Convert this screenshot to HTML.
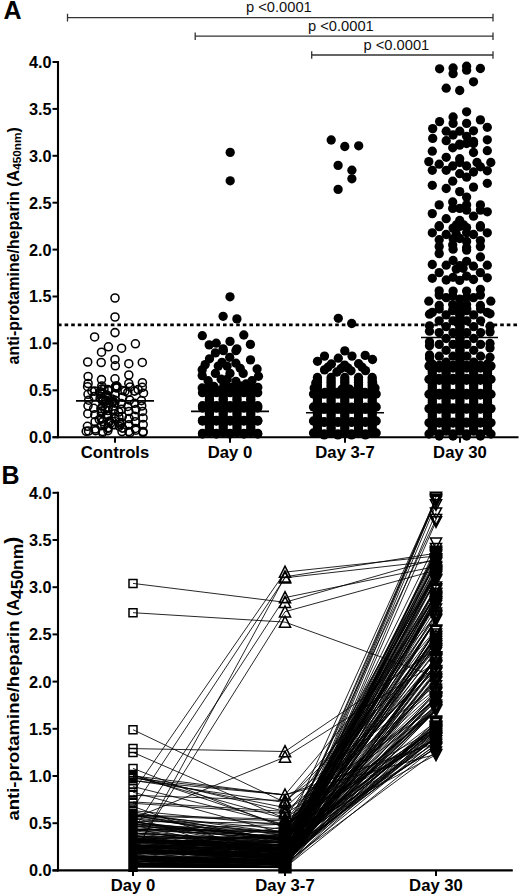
<!DOCTYPE html>
<html><head><meta charset="utf-8"><style>
html,body{margin:0;padding:0;background:#fff;width:520px;height:896px;overflow:hidden}
svg{display:block}
</style></head><body>
<svg width="520" height="896" viewBox="0 0 520 896">
<text x="3.6" y="18.8" font-size="25" font-weight="bold" font-family="Liberation Sans, sans-serif">A</text>
<path d="M67.5 13.8V21.400000000000002M67.5 17.6H493M493 13.8V21.400000000000002" stroke="#333" stroke-width="1.3" fill="none"/>
<text x="246.0" y="11.7" font-size="14.7" fill="#111" font-family="Liberation Sans, sans-serif">p &lt;0.0001</text>
<path d="M195.2 32.400000000000006V40.0M195.2 36.2H493M493 32.400000000000006V40.0" stroke="#333" stroke-width="1.3" fill="none"/>
<text x="308.0" y="31.2" font-size="14.7" fill="#111" font-family="Liberation Sans, sans-serif">p &lt;0.0001</text>
<path d="M311.7 51.2V58.8M311.7 55.0H493M493 51.2V58.8" stroke="#333" stroke-width="1.3" fill="none"/>
<text x="363.5" y="49.6" font-size="14.7" fill="#111" font-family="Liberation Sans, sans-serif">p &lt;0.0001</text>
<line x1="58" y1="61.0" x2="58" y2="438.2" stroke="#000" stroke-width="2.1"/>
<line x1="52.5" y1="437.2" x2="518.5" y2="437.2" stroke="#000" stroke-width="2.1"/>
<line x1="52.5" y1="437.20" x2="58" y2="437.20" stroke="#000" stroke-width="2"/>
<text x="51.6" y="443.10" text-anchor="end" font-size="16.3" font-weight="bold" font-family="Liberation Sans, sans-serif">0.0</text>
<line x1="52.5" y1="390.30" x2="58" y2="390.30" stroke="#000" stroke-width="2"/>
<text x="51.6" y="396.20" text-anchor="end" font-size="16.3" font-weight="bold" font-family="Liberation Sans, sans-serif">0.5</text>
<line x1="52.5" y1="343.40" x2="58" y2="343.40" stroke="#000" stroke-width="2"/>
<text x="51.6" y="349.30" text-anchor="end" font-size="16.3" font-weight="bold" font-family="Liberation Sans, sans-serif">1.0</text>
<line x1="52.5" y1="296.50" x2="58" y2="296.50" stroke="#000" stroke-width="2"/>
<text x="51.6" y="302.40" text-anchor="end" font-size="16.3" font-weight="bold" font-family="Liberation Sans, sans-serif">1.5</text>
<line x1="52.5" y1="249.60" x2="58" y2="249.60" stroke="#000" stroke-width="2"/>
<text x="51.6" y="255.50" text-anchor="end" font-size="16.3" font-weight="bold" font-family="Liberation Sans, sans-serif">2.0</text>
<line x1="52.5" y1="202.70" x2="58" y2="202.70" stroke="#000" stroke-width="2"/>
<text x="51.6" y="208.60" text-anchor="end" font-size="16.3" font-weight="bold" font-family="Liberation Sans, sans-serif">2.5</text>
<line x1="52.5" y1="155.80" x2="58" y2="155.80" stroke="#000" stroke-width="2"/>
<text x="51.6" y="161.70" text-anchor="end" font-size="16.3" font-weight="bold" font-family="Liberation Sans, sans-serif">3.0</text>
<line x1="52.5" y1="108.90" x2="58" y2="108.90" stroke="#000" stroke-width="2"/>
<text x="51.6" y="114.80" text-anchor="end" font-size="16.3" font-weight="bold" font-family="Liberation Sans, sans-serif">3.5</text>
<line x1="52.5" y1="62.00" x2="58" y2="62.00" stroke="#000" stroke-width="2"/>
<text x="51.6" y="67.90" text-anchor="end" font-size="16.3" font-weight="bold" font-family="Liberation Sans, sans-serif">4.0</text>
<line x1="115" y1="437.2" x2="115" y2="442.7" stroke="#000" stroke-width="2"/>
<text x="115" y="457.5" text-anchor="middle" font-size="16.7" font-weight="bold" font-family="Liberation Sans, sans-serif">Controls</text>
<line x1="230" y1="437.2" x2="230" y2="442.7" stroke="#000" stroke-width="2"/>
<text x="230" y="457.5" text-anchor="middle" font-size="16.7" font-weight="bold" font-family="Liberation Sans, sans-serif">Day 0</text>
<line x1="345" y1="437.2" x2="345" y2="442.7" stroke="#000" stroke-width="2"/>
<text x="345" y="457.5" text-anchor="middle" font-size="16.7" font-weight="bold" font-family="Liberation Sans, sans-serif">Day 3-7</text>
<line x1="460" y1="437.2" x2="460" y2="442.7" stroke="#000" stroke-width="2"/>
<text x="460" y="457.5" text-anchor="middle" font-size="16.7" font-weight="bold" font-family="Liberation Sans, sans-serif">Day 30</text>
<line x1="58" y1="324.9" x2="519.5" y2="324.9" stroke="#000" stroke-width="2.6" stroke-dasharray="3.6 3.0"/>
<text transform="translate(18.8,364.5) rotate(-90)" font-size="16" font-weight="bold" font-family="Liberation Sans, sans-serif">anti-protamine/heparin (A<tspan font-size="11.8" dy="2.6">450nm</tspan><tspan dy="-2.6">)</tspan></text>
<circle cx="115.0" cy="298.0" r="4.0" fill="none" stroke="#000" stroke-width="1.55"/>
<circle cx="115.0" cy="317.0" r="4.0" fill="none" stroke="#000" stroke-width="1.55"/>
<circle cx="115.0" cy="332.6" r="4.0" fill="none" stroke="#000" stroke-width="1.55"/>
<circle cx="94.6" cy="336.9" r="4.0" fill="none" stroke="#000" stroke-width="1.55"/>
<circle cx="135.4" cy="343.8" r="4.0" fill="none" stroke="#000" stroke-width="1.55"/>
<circle cx="108.4" cy="346.8" r="4.0" fill="none" stroke="#000" stroke-width="1.55"/>
<circle cx="121.6" cy="348.2" r="4.0" fill="none" stroke="#000" stroke-width="1.55"/>
<circle cx="101.5" cy="352.2" r="4.0" fill="none" stroke="#000" stroke-width="1.55"/>
<circle cx="115.0" cy="359.4" r="4.0" fill="none" stroke="#000" stroke-width="1.55"/>
<circle cx="87.7" cy="362.0" r="4.0" fill="none" stroke="#000" stroke-width="1.55"/>
<circle cx="101.2" cy="362.5" r="4.0" fill="none" stroke="#000" stroke-width="1.55"/>
<circle cx="128.8" cy="363.7" r="4.0" fill="none" stroke="#000" stroke-width="1.55"/>
<circle cx="142.3" cy="362.4" r="4.0" fill="none" stroke="#000" stroke-width="1.55"/>
<circle cx="115.3" cy="365.8" r="4.0" fill="none" stroke="#000" stroke-width="1.55"/>
<circle cx="88.1" cy="376.5" r="4.0" fill="none" stroke="#000" stroke-width="1.55"/>
<circle cx="88.1" cy="383.5" r="4.0" fill="none" stroke="#000" stroke-width="1.55"/>
<circle cx="101.5" cy="379.6" r="4.0" fill="none" stroke="#000" stroke-width="1.55"/>
<circle cx="115.0" cy="378.8" r="4.0" fill="none" stroke="#000" stroke-width="1.55"/>
<circle cx="128.8" cy="375.0" r="4.0" fill="none" stroke="#000" stroke-width="1.55"/>
<circle cx="128.8" cy="383.5" r="4.0" fill="none" stroke="#000" stroke-width="1.55"/>
<circle cx="142.4" cy="382.7" r="4.0" fill="none" stroke="#000" stroke-width="1.55"/>
<circle cx="91.9" cy="391.2" r="4.0" fill="none" stroke="#000" stroke-width="1.55"/>
<circle cx="108.0" cy="389.6" r="4.0" fill="none" stroke="#000" stroke-width="1.55"/>
<circle cx="115.3" cy="387.3" r="4.0" fill="none" stroke="#000" stroke-width="1.55"/>
<circle cx="125.0" cy="391.2" r="4.0" fill="none" stroke="#000" stroke-width="1.55"/>
<circle cx="138.1" cy="389.6" r="4.0" fill="none" stroke="#000" stroke-width="1.55"/>
<circle cx="87.6" cy="386.7" r="4.0" fill="none" stroke="#000" stroke-width="1.55"/>
<circle cx="101.8" cy="386.0" r="4.0" fill="none" stroke="#000" stroke-width="1.55"/>
<circle cx="115.8" cy="386.4" r="4.0" fill="none" stroke="#000" stroke-width="1.55"/>
<circle cx="130.0" cy="386.9" r="4.0" fill="none" stroke="#000" stroke-width="1.55"/>
<circle cx="142.3" cy="387.3" r="4.0" fill="none" stroke="#000" stroke-width="1.55"/>
<circle cx="94.8" cy="391.1" r="4.0" fill="none" stroke="#000" stroke-width="1.55"/>
<circle cx="108.9" cy="390.6" r="4.0" fill="none" stroke="#000" stroke-width="1.55"/>
<circle cx="122.4" cy="390.4" r="4.0" fill="none" stroke="#000" stroke-width="1.55"/>
<circle cx="134.5" cy="391.1" r="4.0" fill="none" stroke="#000" stroke-width="1.55"/>
<circle cx="88.0" cy="394.3" r="4.0" fill="none" stroke="#000" stroke-width="1.55"/>
<circle cx="102.5" cy="393.1" r="4.0" fill="none" stroke="#000" stroke-width="1.55"/>
<circle cx="114.9" cy="394.4" r="4.0" fill="none" stroke="#000" stroke-width="1.55"/>
<circle cx="127.8" cy="392.5" r="4.0" fill="none" stroke="#000" stroke-width="1.55"/>
<circle cx="143.5" cy="393.2" r="4.0" fill="none" stroke="#000" stroke-width="1.55"/>
<circle cx="94.0" cy="396.6" r="4.0" fill="none" stroke="#000" stroke-width="1.55"/>
<circle cx="107.9" cy="396.8" r="4.0" fill="none" stroke="#000" stroke-width="1.55"/>
<circle cx="122.8" cy="397.0" r="4.0" fill="none" stroke="#000" stroke-width="1.55"/>
<circle cx="88.7" cy="400.2" r="4.0" fill="none" stroke="#000" stroke-width="1.55"/>
<circle cx="102.4" cy="400.9" r="4.0" fill="none" stroke="#000" stroke-width="1.55"/>
<circle cx="115.2" cy="400.3" r="4.0" fill="none" stroke="#000" stroke-width="1.55"/>
<circle cx="129.6" cy="400.0" r="4.0" fill="none" stroke="#000" stroke-width="1.55"/>
<circle cx="141.4" cy="400.6" r="4.0" fill="none" stroke="#000" stroke-width="1.55"/>
<circle cx="109.0" cy="402.8" r="4.0" fill="none" stroke="#000" stroke-width="1.55"/>
<circle cx="121.3" cy="403.6" r="4.0" fill="none" stroke="#000" stroke-width="1.55"/>
<circle cx="134.5" cy="403.3" r="4.0" fill="none" stroke="#000" stroke-width="1.55"/>
<circle cx="88.0" cy="405.8" r="4.0" fill="none" stroke="#000" stroke-width="1.55"/>
<circle cx="102.7" cy="406.2" r="4.0" fill="none" stroke="#000" stroke-width="1.55"/>
<circle cx="127.8" cy="406.4" r="4.0" fill="none" stroke="#000" stroke-width="1.55"/>
<circle cx="141.7" cy="406.0" r="4.0" fill="none" stroke="#000" stroke-width="1.55"/>
<circle cx="93.7" cy="408.3" r="4.0" fill="none" stroke="#000" stroke-width="1.55"/>
<circle cx="107.9" cy="410.5" r="4.0" fill="none" stroke="#000" stroke-width="1.55"/>
<circle cx="121.5" cy="409.3" r="4.0" fill="none" stroke="#000" stroke-width="1.55"/>
<circle cx="135.9" cy="409.6" r="4.0" fill="none" stroke="#000" stroke-width="1.55"/>
<circle cx="87.8" cy="413.7" r="4.0" fill="none" stroke="#000" stroke-width="1.55"/>
<circle cx="101.3" cy="413.1" r="4.0" fill="none" stroke="#000" stroke-width="1.55"/>
<circle cx="114.5" cy="413.7" r="4.0" fill="none" stroke="#000" stroke-width="1.55"/>
<circle cx="128.9" cy="411.4" r="4.0" fill="none" stroke="#000" stroke-width="1.55"/>
<circle cx="142.6" cy="411.4" r="4.0" fill="none" stroke="#000" stroke-width="1.55"/>
<circle cx="94.8" cy="414.7" r="4.0" fill="none" stroke="#000" stroke-width="1.55"/>
<circle cx="108.2" cy="416.2" r="4.0" fill="none" stroke="#000" stroke-width="1.55"/>
<circle cx="122.3" cy="416.4" r="4.0" fill="none" stroke="#000" stroke-width="1.55"/>
<circle cx="134.5" cy="416.2" r="4.0" fill="none" stroke="#000" stroke-width="1.55"/>
<circle cx="101.4" cy="419.2" r="4.0" fill="none" stroke="#000" stroke-width="1.55"/>
<circle cx="114.7" cy="418.6" r="4.0" fill="none" stroke="#000" stroke-width="1.55"/>
<circle cx="129.0" cy="418.5" r="4.0" fill="none" stroke="#000" stroke-width="1.55"/>
<circle cx="143.1" cy="417.9" r="4.0" fill="none" stroke="#000" stroke-width="1.55"/>
<circle cx="95.1" cy="421.7" r="4.0" fill="none" stroke="#000" stroke-width="1.55"/>
<circle cx="109.0" cy="421.6" r="4.0" fill="none" stroke="#000" stroke-width="1.55"/>
<circle cx="121.6" cy="422.7" r="4.0" fill="none" stroke="#000" stroke-width="1.55"/>
<circle cx="135.2" cy="421.8" r="4.0" fill="none" stroke="#000" stroke-width="1.55"/>
<circle cx="87.4" cy="426.3" r="4.0" fill="none" stroke="#000" stroke-width="1.55"/>
<circle cx="101.1" cy="425.8" r="4.0" fill="none" stroke="#000" stroke-width="1.55"/>
<circle cx="114.9" cy="424.7" r="4.0" fill="none" stroke="#000" stroke-width="1.55"/>
<circle cx="128.9" cy="424.7" r="4.0" fill="none" stroke="#000" stroke-width="1.55"/>
<circle cx="143.2" cy="424.6" r="4.0" fill="none" stroke="#000" stroke-width="1.55"/>
<circle cx="95.2" cy="428.9" r="4.0" fill="none" stroke="#000" stroke-width="1.55"/>
<circle cx="107.9" cy="427.7" r="4.0" fill="none" stroke="#000" stroke-width="1.55"/>
<circle cx="122.5" cy="428.1" r="4.0" fill="none" stroke="#000" stroke-width="1.55"/>
<circle cx="135.4" cy="428.4" r="4.0" fill="none" stroke="#000" stroke-width="1.55"/>
<circle cx="88.5" cy="431.0" r="4.0" fill="none" stroke="#000" stroke-width="1.55"/>
<circle cx="102.6" cy="432.7" r="4.0" fill="none" stroke="#000" stroke-width="1.55"/>
<circle cx="129.9" cy="432.8" r="4.0" fill="none" stroke="#000" stroke-width="1.55"/>
<circle cx="143.0" cy="432.6" r="4.0" fill="none" stroke="#000" stroke-width="1.55"/>
<circle cx="113.6" cy="409.4" r="4.0" fill="none" stroke="#000" stroke-width="1.55"/>
<circle cx="105.4" cy="401.3" r="4.0" fill="none" stroke="#000" stroke-width="1.55"/>
<circle cx="104.0" cy="389.1" r="4.0" fill="none" stroke="#000" stroke-width="1.55"/>
<circle cx="112.0" cy="398.9" r="4.0" fill="none" stroke="#000" stroke-width="1.55"/>
<circle cx="116.8" cy="388.0" r="4.0" fill="none" stroke="#000" stroke-width="1.55"/>
<circle cx="118.9" cy="417.2" r="4.0" fill="none" stroke="#000" stroke-width="1.55"/>
<circle cx="119.3" cy="426.3" r="4.0" fill="none" stroke="#000" stroke-width="1.55"/>
<circle cx="118.8" cy="412.0" r="4.0" fill="none" stroke="#000" stroke-width="1.55"/>
<circle cx="99.3" cy="419.5" r="4.0" fill="none" stroke="#000" stroke-width="1.55"/>
<circle cx="102.8" cy="399.5" r="4.0" fill="none" stroke="#000" stroke-width="1.55"/>
<circle cx="113.6" cy="409.6" r="4.0" fill="none" stroke="#000" stroke-width="1.55"/>
<circle cx="108.1" cy="428.3" r="4.0" fill="none" stroke="#000" stroke-width="1.55"/>
<circle cx="112.5" cy="401.4" r="4.0" fill="none" stroke="#000" stroke-width="1.55"/>
<circle cx="104.6" cy="424.8" r="4.0" fill="none" stroke="#000" stroke-width="1.55"/>
<circle cx="109.5" cy="421.2" r="4.0" fill="none" stroke="#000" stroke-width="1.55"/>
<circle cx="106.7" cy="394.9" r="4.0" fill="none" stroke="#000" stroke-width="1.55"/>
<circle cx="110.8" cy="422.8" r="4.0" fill="none" stroke="#000" stroke-width="1.55"/>
<circle cx="102.8" cy="421.6" r="4.0" fill="none" stroke="#000" stroke-width="1.55"/>
<circle cx="119.3" cy="422.3" r="4.0" fill="none" stroke="#000" stroke-width="1.55"/>
<circle cx="117.1" cy="386.3" r="4.0" fill="none" stroke="#000" stroke-width="1.55"/>
<circle cx="112.8" cy="424.8" r="4.0" fill="none" stroke="#000" stroke-width="1.55"/>
<circle cx="100.1" cy="398.2" r="4.0" fill="none" stroke="#000" stroke-width="1.55"/>
<circle cx="104.9" cy="409.7" r="4.0" fill="none" stroke="#000" stroke-width="1.55"/>
<circle cx="108.3" cy="407.3" r="4.0" fill="none" stroke="#000" stroke-width="1.55"/>
<circle cx="116.1" cy="386.1" r="4.0" fill="none" stroke="#000" stroke-width="1.55"/>
<circle cx="100.2" cy="391.7" r="4.0" fill="none" stroke="#000" stroke-width="1.55"/>
<circle cx="101.7" cy="389.1" r="4.0" fill="none" stroke="#000" stroke-width="1.55"/>
<circle cx="120.4" cy="424.5" r="4.0" fill="none" stroke="#000" stroke-width="1.55"/>
<circle cx="100.9" cy="408.6" r="4.0" fill="none" stroke="#000" stroke-width="1.55"/>
<circle cx="105.9" cy="400.2" r="4.0" fill="none" stroke="#000" stroke-width="1.55"/>
<circle cx="106.7" cy="415.1" r="4.0" fill="none" stroke="#000" stroke-width="1.55"/>
<circle cx="111.9" cy="402.2" r="4.0" fill="none" stroke="#000" stroke-width="1.55"/>
<circle cx="103.2" cy="400.8" r="4.0" fill="none" stroke="#000" stroke-width="1.55"/>
<circle cx="101.7" cy="411.0" r="4.0" fill="none" stroke="#000" stroke-width="1.55"/>
<circle cx="114.8" cy="403.1" r="4.0" fill="none" stroke="#000" stroke-width="1.55"/>
<circle cx="100.8" cy="394.0" r="4.0" fill="none" stroke="#000" stroke-width="1.55"/>
<circle cx="86.2" cy="431.3" r="4.0" fill="none" stroke="#000" stroke-width="1.55"/>
<circle cx="95.6" cy="430.6" r="4.0" fill="none" stroke="#000" stroke-width="1.55"/>
<circle cx="102.6" cy="431.4" r="4.0" fill="none" stroke="#000" stroke-width="1.55"/>
<circle cx="107.9" cy="430.6" r="4.0" fill="none" stroke="#000" stroke-width="1.55"/>
<circle cx="122.0" cy="431.6" r="4.0" fill="none" stroke="#000" stroke-width="1.55"/>
<circle cx="128.8" cy="431.6" r="4.0" fill="none" stroke="#000" stroke-width="1.55"/>
<circle cx="135.9" cy="430.2" r="4.0" fill="none" stroke="#000" stroke-width="1.55"/>
<circle cx="143.1" cy="431.6" r="4.0" fill="none" stroke="#000" stroke-width="1.55"/>
<circle cx="230.2" cy="152.4" r="4.65"/>
<circle cx="230.2" cy="180.8" r="4.65"/>
<circle cx="230.0" cy="296.8" r="4.65"/>
<circle cx="223.1" cy="316.3" r="4.65"/>
<circle cx="236.9" cy="318.9" r="4.65"/>
<circle cx="202.3" cy="335.7" r="4.65"/>
<circle cx="243.8" cy="335.0" r="4.65"/>
<circle cx="209.2" cy="344.9" r="4.65"/>
<circle cx="216.2" cy="343.2" r="4.65"/>
<circle cx="230.0" cy="341.4" r="4.65"/>
<circle cx="250.4" cy="344.4" r="4.65"/>
<circle cx="223.1" cy="348.9" r="4.65"/>
<circle cx="236.9" cy="348.9" r="4.65"/>
<circle cx="215.4" cy="352.9" r="4.65"/>
<circle cx="223.4" cy="350.7" r="4.65"/>
<circle cx="235.9" cy="350.7" r="4.65"/>
<circle cx="209.5" cy="358.8" r="4.65"/>
<circle cx="229.7" cy="357.3" r="4.65"/>
<circle cx="250.5" cy="359.9" r="4.65"/>
<circle cx="205.2" cy="364.6" r="4.65"/>
<circle cx="222.0" cy="362.4" r="4.65"/>
<circle cx="235.9" cy="363.2" r="4.65"/>
<circle cx="202.2" cy="369.7" r="4.65"/>
<circle cx="218.3" cy="366.1" r="4.65"/>
<circle cx="227.1" cy="366.1" r="4.65"/>
<circle cx="240.2" cy="368.3" r="4.65"/>
<circle cx="257.1" cy="369.0" r="4.65"/>
<circle cx="202.2" cy="375.6" r="4.65"/>
<circle cx="215.4" cy="373.4" r="4.65"/>
<circle cx="230.0" cy="373.4" r="4.65"/>
<circle cx="243.2" cy="373.4" r="4.65"/>
<circle cx="258.5" cy="376.3" r="4.65"/>
<circle cx="208.1" cy="380.7" r="4.65"/>
<circle cx="221.2" cy="379.2" r="4.65"/>
<circle cx="227.1" cy="379.2" r="4.65"/>
<circle cx="235.9" cy="381.4" r="4.65"/>
<circle cx="252.0" cy="380.7" r="4.65"/>
<circle cx="202.2" cy="388.0" r="4.65"/>
<circle cx="213.9" cy="386.5" r="4.65"/>
<circle cx="230.0" cy="387.3" r="4.65"/>
<circle cx="240.2" cy="385.8" r="4.65"/>
<circle cx="257.8" cy="387.3" r="4.65"/>
<circle cx="246.0" cy="384.0" r="4.65"/>
<circle cx="224.0" cy="384.0" r="4.65"/>
<circle cx="216.3" cy="390.0" r="4.65"/>
<circle cx="243.9" cy="390.0" r="4.65"/>
<circle cx="209.4" cy="385.0" r="4.65"/>
<circle cx="250.8" cy="385.0" r="4.65"/>
<circle cx="223.2" cy="388.0" r="4.65"/>
<circle cx="237.0" cy="388.0" r="4.65"/>
<circle cx="230.1" cy="392.0" r="4.65"/>
<circle cx="209.4" cy="392.0" r="4.65"/>
<circle cx="209.4" cy="394.4" r="4.65"/>
<circle cx="209.4" cy="396.8" r="4.65"/>
<circle cx="209.4" cy="399.2" r="4.65"/>
<circle cx="209.4" cy="401.6" r="4.65"/>
<circle cx="209.4" cy="404.0" r="4.65"/>
<circle cx="209.4" cy="406.4" r="4.65"/>
<circle cx="209.4" cy="408.8" r="4.65"/>
<circle cx="209.4" cy="411.2" r="4.65"/>
<circle cx="209.4" cy="413.6" r="4.65"/>
<circle cx="209.4" cy="416.0" r="4.65"/>
<circle cx="209.4" cy="418.4" r="4.65"/>
<circle cx="209.4" cy="420.8" r="4.65"/>
<circle cx="209.4" cy="423.2" r="4.65"/>
<circle cx="209.4" cy="425.6" r="4.65"/>
<circle cx="209.4" cy="428.0" r="4.65"/>
<circle cx="209.4" cy="430.4" r="4.65"/>
<circle cx="209.4" cy="432.8" r="4.65"/>
<circle cx="223.2" cy="392.0" r="4.65"/>
<circle cx="223.2" cy="394.4" r="4.65"/>
<circle cx="223.2" cy="396.8" r="4.65"/>
<circle cx="223.2" cy="399.2" r="4.65"/>
<circle cx="223.2" cy="401.6" r="4.65"/>
<circle cx="223.2" cy="404.0" r="4.65"/>
<circle cx="223.2" cy="406.4" r="4.65"/>
<circle cx="223.2" cy="408.8" r="4.65"/>
<circle cx="223.2" cy="411.2" r="4.65"/>
<circle cx="223.2" cy="413.6" r="4.65"/>
<circle cx="223.2" cy="416.0" r="4.65"/>
<circle cx="223.2" cy="418.4" r="4.65"/>
<circle cx="223.2" cy="420.8" r="4.65"/>
<circle cx="223.2" cy="423.2" r="4.65"/>
<circle cx="223.2" cy="425.6" r="4.65"/>
<circle cx="223.2" cy="428.0" r="4.65"/>
<circle cx="223.2" cy="430.4" r="4.65"/>
<circle cx="223.2" cy="432.8" r="4.65"/>
<circle cx="237.0" cy="392.0" r="4.65"/>
<circle cx="237.0" cy="394.4" r="4.65"/>
<circle cx="237.0" cy="396.8" r="4.65"/>
<circle cx="237.0" cy="399.2" r="4.65"/>
<circle cx="237.0" cy="401.6" r="4.65"/>
<circle cx="237.0" cy="404.0" r="4.65"/>
<circle cx="237.0" cy="406.4" r="4.65"/>
<circle cx="237.0" cy="408.8" r="4.65"/>
<circle cx="237.0" cy="411.2" r="4.65"/>
<circle cx="237.0" cy="413.6" r="4.65"/>
<circle cx="237.0" cy="416.0" r="4.65"/>
<circle cx="237.0" cy="418.4" r="4.65"/>
<circle cx="237.0" cy="420.8" r="4.65"/>
<circle cx="237.0" cy="423.2" r="4.65"/>
<circle cx="237.0" cy="425.6" r="4.65"/>
<circle cx="237.0" cy="428.0" r="4.65"/>
<circle cx="237.0" cy="430.4" r="4.65"/>
<circle cx="237.0" cy="432.8" r="4.65"/>
<circle cx="250.8" cy="392.0" r="4.65"/>
<circle cx="250.8" cy="394.4" r="4.65"/>
<circle cx="250.8" cy="396.8" r="4.65"/>
<circle cx="250.8" cy="399.2" r="4.65"/>
<circle cx="250.8" cy="401.6" r="4.65"/>
<circle cx="250.8" cy="404.0" r="4.65"/>
<circle cx="250.8" cy="406.4" r="4.65"/>
<circle cx="250.8" cy="408.8" r="4.65"/>
<circle cx="250.8" cy="411.2" r="4.65"/>
<circle cx="250.8" cy="413.6" r="4.65"/>
<circle cx="250.8" cy="416.0" r="4.65"/>
<circle cx="250.8" cy="418.4" r="4.65"/>
<circle cx="250.8" cy="420.8" r="4.65"/>
<circle cx="250.8" cy="423.2" r="4.65"/>
<circle cx="250.8" cy="425.6" r="4.65"/>
<circle cx="250.8" cy="428.0" r="4.65"/>
<circle cx="250.8" cy="430.4" r="4.65"/>
<circle cx="250.8" cy="432.8" r="4.65"/>
<circle cx="202.5" cy="392.7" r="4.65"/>
<circle cx="202.5" cy="405.7" r="4.65"/>
<circle cx="202.5" cy="408.0" r="4.65"/>
<circle cx="202.5" cy="421.0" r="4.65"/>
<circle cx="202.5" cy="420.4" r="4.65"/>
<circle cx="202.5" cy="433.4" r="4.65"/>
<circle cx="202.5" cy="406.9" r="4.65"/>
<circle cx="202.5" cy="420.7" r="4.65"/>
<circle cx="216.3" cy="392.7" r="4.65"/>
<circle cx="216.3" cy="405.7" r="4.65"/>
<circle cx="216.3" cy="408.0" r="4.65"/>
<circle cx="216.3" cy="421.0" r="4.65"/>
<circle cx="216.3" cy="420.4" r="4.65"/>
<circle cx="216.3" cy="433.4" r="4.65"/>
<circle cx="216.3" cy="406.9" r="4.65"/>
<circle cx="216.3" cy="420.7" r="4.65"/>
<circle cx="230.1" cy="392.7" r="4.65"/>
<circle cx="230.1" cy="405.7" r="4.65"/>
<circle cx="230.1" cy="408.0" r="4.65"/>
<circle cx="230.1" cy="421.0" r="4.65"/>
<circle cx="230.1" cy="420.4" r="4.65"/>
<circle cx="230.1" cy="433.4" r="4.65"/>
<circle cx="230.1" cy="406.9" r="4.65"/>
<circle cx="230.1" cy="420.7" r="4.65"/>
<circle cx="243.9" cy="392.7" r="4.65"/>
<circle cx="243.9" cy="405.7" r="4.65"/>
<circle cx="243.9" cy="408.0" r="4.65"/>
<circle cx="243.9" cy="421.0" r="4.65"/>
<circle cx="243.9" cy="420.4" r="4.65"/>
<circle cx="243.9" cy="433.4" r="4.65"/>
<circle cx="243.9" cy="406.9" r="4.65"/>
<circle cx="243.9" cy="420.7" r="4.65"/>
<circle cx="257.7" cy="392.7" r="4.65"/>
<circle cx="257.7" cy="405.7" r="4.65"/>
<circle cx="257.7" cy="408.0" r="4.65"/>
<circle cx="257.7" cy="421.0" r="4.65"/>
<circle cx="257.7" cy="420.4" r="4.65"/>
<circle cx="257.7" cy="433.4" r="4.65"/>
<circle cx="257.7" cy="406.9" r="4.65"/>
<circle cx="257.7" cy="420.7" r="4.65"/>
<circle cx="202.5" cy="434.0" r="4.65"/>
<circle cx="216.3" cy="434.0" r="4.65"/>
<circle cx="230.1" cy="434.0" r="4.65"/>
<circle cx="243.9" cy="434.0" r="4.65"/>
<circle cx="257.7" cy="434.0" r="4.65"/>
<circle cx="331.2" cy="140.0" r="4.65"/>
<circle cx="344.8" cy="146.5" r="4.65"/>
<circle cx="358.7" cy="145.8" r="4.65"/>
<circle cx="338.1" cy="165.4" r="4.65"/>
<circle cx="351.9" cy="170.2" r="4.65"/>
<circle cx="351.9" cy="178.8" r="4.65"/>
<circle cx="338.1" cy="189.4" r="4.65"/>
<circle cx="338.3" cy="318.3" r="4.65"/>
<circle cx="351.7" cy="323.5" r="4.65"/>
<circle cx="317.5" cy="361.3" r="4.65"/>
<circle cx="324.5" cy="356.1" r="4.65"/>
<circle cx="338.3" cy="358.2" r="4.65"/>
<circle cx="344.8" cy="350.9" r="4.65"/>
<circle cx="352.0" cy="356.1" r="4.65"/>
<circle cx="365.2" cy="355.4" r="4.65"/>
<circle cx="372.5" cy="359.5" r="4.65"/>
<circle cx="324.5" cy="369.9" r="4.65"/>
<circle cx="327.9" cy="367.2" r="4.65"/>
<circle cx="331.4" cy="364.0" r="4.65"/>
<circle cx="336.9" cy="372.0" r="4.65"/>
<circle cx="341.1" cy="368.5" r="4.65"/>
<circle cx="344.6" cy="365.1" r="4.65"/>
<circle cx="347.8" cy="367.9" r="4.65"/>
<circle cx="351.0" cy="370.8" r="4.65"/>
<circle cx="358.6" cy="363.7" r="4.65"/>
<circle cx="362.1" cy="367.2" r="4.65"/>
<circle cx="365.5" cy="370.6" r="4.65"/>
<circle cx="315.8" cy="383.0" r="4.65"/>
<circle cx="314.2" cy="388.1" r="4.65"/>
<circle cx="374.2" cy="389.2" r="4.65"/>
<circle cx="372.7" cy="383.0" r="4.65"/>
<circle cx="341.9" cy="389.2" r="4.65"/>
<circle cx="349.6" cy="389.2" r="4.65"/>
<circle cx="375.0" cy="388.1" r="4.65"/>
<circle cx="325.0" cy="392.3" r="4.65"/>
<circle cx="335.8" cy="392.3" r="4.65"/>
<circle cx="352.7" cy="392.3" r="4.65"/>
<circle cx="365.0" cy="392.3" r="4.65"/>
<circle cx="317.4" cy="377.5" r="4.65"/>
<circle cx="317.4" cy="379.9" r="4.65"/>
<circle cx="317.4" cy="382.3" r="4.65"/>
<circle cx="317.4" cy="384.7" r="4.65"/>
<circle cx="317.4" cy="387.1" r="4.65"/>
<circle cx="317.4" cy="389.5" r="4.65"/>
<circle cx="317.4" cy="391.9" r="4.65"/>
<circle cx="317.4" cy="394.3" r="4.65"/>
<circle cx="317.4" cy="396.7" r="4.65"/>
<circle cx="317.4" cy="399.1" r="4.65"/>
<circle cx="317.4" cy="401.5" r="4.65"/>
<circle cx="317.4" cy="403.9" r="4.65"/>
<circle cx="317.4" cy="406.3" r="4.65"/>
<circle cx="317.4" cy="408.7" r="4.65"/>
<circle cx="317.4" cy="411.1" r="4.65"/>
<circle cx="317.4" cy="413.5" r="4.65"/>
<circle cx="317.4" cy="415.9" r="4.65"/>
<circle cx="317.4" cy="418.3" r="4.65"/>
<circle cx="317.4" cy="420.7" r="4.65"/>
<circle cx="317.4" cy="423.1" r="4.65"/>
<circle cx="317.4" cy="425.5" r="4.65"/>
<circle cx="317.4" cy="427.9" r="4.65"/>
<circle cx="317.4" cy="430.3" r="4.65"/>
<circle cx="317.4" cy="432.7" r="4.65"/>
<circle cx="331.1" cy="377.5" r="4.65"/>
<circle cx="331.1" cy="379.9" r="4.65"/>
<circle cx="331.1" cy="382.3" r="4.65"/>
<circle cx="331.1" cy="384.7" r="4.65"/>
<circle cx="331.1" cy="387.1" r="4.65"/>
<circle cx="331.1" cy="389.5" r="4.65"/>
<circle cx="331.1" cy="391.9" r="4.65"/>
<circle cx="331.1" cy="394.3" r="4.65"/>
<circle cx="331.1" cy="396.7" r="4.65"/>
<circle cx="331.1" cy="399.1" r="4.65"/>
<circle cx="331.1" cy="401.5" r="4.65"/>
<circle cx="331.1" cy="403.9" r="4.65"/>
<circle cx="331.1" cy="406.3" r="4.65"/>
<circle cx="331.1" cy="408.7" r="4.65"/>
<circle cx="331.1" cy="411.1" r="4.65"/>
<circle cx="331.1" cy="413.5" r="4.65"/>
<circle cx="331.1" cy="415.9" r="4.65"/>
<circle cx="331.1" cy="418.3" r="4.65"/>
<circle cx="331.1" cy="420.7" r="4.65"/>
<circle cx="331.1" cy="423.1" r="4.65"/>
<circle cx="331.1" cy="425.5" r="4.65"/>
<circle cx="331.1" cy="427.9" r="4.65"/>
<circle cx="331.1" cy="430.3" r="4.65"/>
<circle cx="331.1" cy="432.7" r="4.65"/>
<circle cx="344.8" cy="377.5" r="4.65"/>
<circle cx="344.8" cy="379.9" r="4.65"/>
<circle cx="344.8" cy="382.3" r="4.65"/>
<circle cx="344.8" cy="384.7" r="4.65"/>
<circle cx="344.8" cy="387.1" r="4.65"/>
<circle cx="344.8" cy="389.5" r="4.65"/>
<circle cx="344.8" cy="391.9" r="4.65"/>
<circle cx="344.8" cy="394.3" r="4.65"/>
<circle cx="344.8" cy="396.7" r="4.65"/>
<circle cx="344.8" cy="399.1" r="4.65"/>
<circle cx="344.8" cy="401.5" r="4.65"/>
<circle cx="344.8" cy="403.9" r="4.65"/>
<circle cx="344.8" cy="406.3" r="4.65"/>
<circle cx="344.8" cy="408.7" r="4.65"/>
<circle cx="344.8" cy="411.1" r="4.65"/>
<circle cx="344.8" cy="413.5" r="4.65"/>
<circle cx="344.8" cy="415.9" r="4.65"/>
<circle cx="344.8" cy="418.3" r="4.65"/>
<circle cx="344.8" cy="420.7" r="4.65"/>
<circle cx="344.8" cy="423.1" r="4.65"/>
<circle cx="344.8" cy="425.5" r="4.65"/>
<circle cx="344.8" cy="427.9" r="4.65"/>
<circle cx="344.8" cy="430.3" r="4.65"/>
<circle cx="344.8" cy="432.7" r="4.65"/>
<circle cx="358.5" cy="377.5" r="4.65"/>
<circle cx="358.5" cy="379.9" r="4.65"/>
<circle cx="358.5" cy="382.3" r="4.65"/>
<circle cx="358.5" cy="384.7" r="4.65"/>
<circle cx="358.5" cy="387.1" r="4.65"/>
<circle cx="358.5" cy="389.5" r="4.65"/>
<circle cx="358.5" cy="391.9" r="4.65"/>
<circle cx="358.5" cy="394.3" r="4.65"/>
<circle cx="358.5" cy="396.7" r="4.65"/>
<circle cx="358.5" cy="399.1" r="4.65"/>
<circle cx="358.5" cy="401.5" r="4.65"/>
<circle cx="358.5" cy="403.9" r="4.65"/>
<circle cx="358.5" cy="406.3" r="4.65"/>
<circle cx="358.5" cy="408.7" r="4.65"/>
<circle cx="358.5" cy="411.1" r="4.65"/>
<circle cx="358.5" cy="413.5" r="4.65"/>
<circle cx="358.5" cy="415.9" r="4.65"/>
<circle cx="358.5" cy="418.3" r="4.65"/>
<circle cx="358.5" cy="420.7" r="4.65"/>
<circle cx="358.5" cy="423.1" r="4.65"/>
<circle cx="358.5" cy="425.5" r="4.65"/>
<circle cx="358.5" cy="427.9" r="4.65"/>
<circle cx="358.5" cy="430.3" r="4.65"/>
<circle cx="358.5" cy="432.7" r="4.65"/>
<circle cx="372.2" cy="377.5" r="4.65"/>
<circle cx="372.2" cy="379.9" r="4.65"/>
<circle cx="372.2" cy="382.3" r="4.65"/>
<circle cx="372.2" cy="384.7" r="4.65"/>
<circle cx="372.2" cy="387.1" r="4.65"/>
<circle cx="372.2" cy="389.5" r="4.65"/>
<circle cx="372.2" cy="391.9" r="4.65"/>
<circle cx="372.2" cy="394.3" r="4.65"/>
<circle cx="372.2" cy="396.7" r="4.65"/>
<circle cx="372.2" cy="399.1" r="4.65"/>
<circle cx="372.2" cy="401.5" r="4.65"/>
<circle cx="372.2" cy="403.9" r="4.65"/>
<circle cx="372.2" cy="406.3" r="4.65"/>
<circle cx="372.2" cy="408.7" r="4.65"/>
<circle cx="372.2" cy="411.1" r="4.65"/>
<circle cx="372.2" cy="413.5" r="4.65"/>
<circle cx="372.2" cy="415.9" r="4.65"/>
<circle cx="372.2" cy="418.3" r="4.65"/>
<circle cx="372.2" cy="420.7" r="4.65"/>
<circle cx="372.2" cy="423.1" r="4.65"/>
<circle cx="372.2" cy="425.5" r="4.65"/>
<circle cx="372.2" cy="427.9" r="4.65"/>
<circle cx="372.2" cy="430.3" r="4.65"/>
<circle cx="372.2" cy="432.7" r="4.65"/>
<circle cx="324.2" cy="394.2" r="4.65"/>
<circle cx="324.2" cy="407.2" r="4.65"/>
<circle cx="324.2" cy="409.2" r="4.65"/>
<circle cx="324.2" cy="422.2" r="4.65"/>
<circle cx="324.2" cy="421.9" r="4.65"/>
<circle cx="324.2" cy="434.9" r="4.65"/>
<circle cx="324.2" cy="408.2" r="4.65"/>
<circle cx="324.2" cy="422.0" r="4.65"/>
<circle cx="337.9" cy="394.2" r="4.65"/>
<circle cx="337.9" cy="407.2" r="4.65"/>
<circle cx="337.9" cy="409.2" r="4.65"/>
<circle cx="337.9" cy="422.2" r="4.65"/>
<circle cx="337.9" cy="421.9" r="4.65"/>
<circle cx="337.9" cy="434.9" r="4.65"/>
<circle cx="337.9" cy="408.2" r="4.65"/>
<circle cx="337.9" cy="422.0" r="4.65"/>
<circle cx="351.6" cy="394.2" r="4.65"/>
<circle cx="351.6" cy="407.2" r="4.65"/>
<circle cx="351.6" cy="409.2" r="4.65"/>
<circle cx="351.6" cy="422.2" r="4.65"/>
<circle cx="351.6" cy="421.9" r="4.65"/>
<circle cx="351.6" cy="434.9" r="4.65"/>
<circle cx="351.6" cy="408.2" r="4.65"/>
<circle cx="351.6" cy="422.0" r="4.65"/>
<circle cx="365.4" cy="394.2" r="4.65"/>
<circle cx="365.4" cy="407.2" r="4.65"/>
<circle cx="365.4" cy="409.2" r="4.65"/>
<circle cx="365.4" cy="422.2" r="4.65"/>
<circle cx="365.4" cy="421.9" r="4.65"/>
<circle cx="365.4" cy="434.9" r="4.65"/>
<circle cx="365.4" cy="408.2" r="4.65"/>
<circle cx="365.4" cy="422.0" r="4.65"/>
<circle cx="324.2" cy="434.0" r="4.65"/>
<circle cx="337.9" cy="434.0" r="4.65"/>
<circle cx="351.6" cy="434.0" r="4.65"/>
<circle cx="365.4" cy="434.0" r="4.65"/>
<circle cx="313.5" cy="394.0" r="4.65"/>
<circle cx="376.2" cy="394.0" r="4.65"/>
<circle cx="313.5" cy="407.0" r="4.65"/>
<circle cx="376.2" cy="407.0" r="4.65"/>
<circle cx="313.5" cy="421.0" r="4.65"/>
<circle cx="376.2" cy="421.0" r="4.65"/>
<circle cx="313.5" cy="433.0" r="4.65"/>
<circle cx="376.2" cy="433.0" r="4.65"/>
<circle cx="439.6" cy="68.8" r="4.65"/>
<circle cx="453.1" cy="68.0" r="4.65"/>
<circle cx="453.1" cy="73.7" r="4.65"/>
<circle cx="466.6" cy="66.2" r="4.65"/>
<circle cx="466.6" cy="70.2" r="4.65"/>
<circle cx="480.4" cy="68.5" r="4.65"/>
<circle cx="473.5" cy="81.8" r="4.65"/>
<circle cx="446.2" cy="88.2" r="4.65"/>
<circle cx="459.7" cy="90.5" r="4.65"/>
<circle cx="466.6" cy="111.8" r="4.65"/>
<circle cx="453.1" cy="117.0" r="4.65"/>
<circle cx="439.6" cy="121.6" r="4.65"/>
<circle cx="480.4" cy="119.9" r="4.65"/>
<circle cx="453.1" cy="123.4" r="4.65"/>
<circle cx="466.6" cy="123.4" r="4.65"/>
<circle cx="432.7" cy="128.6" r="4.65"/>
<circle cx="487.3" cy="127.3" r="4.65"/>
<circle cx="446.2" cy="131.2" r="4.65"/>
<circle cx="459.7" cy="131.2" r="4.65"/>
<circle cx="473.5" cy="130.8" r="4.65"/>
<circle cx="453.1" cy="135.0" r="4.65"/>
<circle cx="466.6" cy="136.3" r="4.65"/>
<circle cx="432.7" cy="138.4" r="4.65"/>
<circle cx="487.3" cy="139.8" r="4.65"/>
<circle cx="446.2" cy="140.7" r="4.65"/>
<circle cx="459.7" cy="144.1" r="4.65"/>
<circle cx="473.5" cy="141.5" r="4.65"/>
<circle cx="452.7" cy="147.8" r="4.65"/>
<circle cx="459.7" cy="145.2" r="4.65"/>
<circle cx="466.6" cy="143.5" r="4.65"/>
<circle cx="473.5" cy="143.5" r="4.65"/>
<circle cx="432.3" cy="151.2" r="4.65"/>
<circle cx="473.5" cy="152.5" r="4.65"/>
<circle cx="487.3" cy="150.7" r="4.65"/>
<circle cx="446.2" cy="157.3" r="4.65"/>
<circle cx="459.7" cy="158.7" r="4.65"/>
<circle cx="428.8" cy="161.6" r="4.65"/>
<circle cx="439.2" cy="164.2" r="4.65"/>
<circle cx="452.7" cy="166.0" r="4.65"/>
<circle cx="459.7" cy="162.5" r="4.65"/>
<circle cx="466.6" cy="166.0" r="4.65"/>
<circle cx="477.0" cy="162.5" r="4.65"/>
<circle cx="490.8" cy="162.5" r="4.65"/>
<circle cx="432.3" cy="170.3" r="4.65"/>
<circle cx="446.2" cy="170.3" r="4.65"/>
<circle cx="473.5" cy="172.0" r="4.65"/>
<circle cx="480.4" cy="166.8" r="4.65"/>
<circle cx="487.3" cy="170.8" r="4.65"/>
<circle cx="459.7" cy="173.7" r="4.65"/>
<circle cx="466.6" cy="177.2" r="4.65"/>
<circle cx="452.7" cy="181.2" r="4.65"/>
<circle cx="432.3" cy="185.3" r="4.65"/>
<circle cx="487.3" cy="183.3" r="4.65"/>
<circle cx="446.2" cy="188.5" r="4.65"/>
<circle cx="473.5" cy="187.1" r="4.65"/>
<circle cx="459.7" cy="191.6" r="4.65"/>
<circle cx="466.6" cy="197.1" r="4.65"/>
<circle cx="452.7" cy="202.0" r="4.65"/>
<circle cx="439.2" cy="204.9" r="4.65"/>
<circle cx="452.7" cy="208.4" r="4.65"/>
<circle cx="466.6" cy="204.9" r="4.65"/>
<circle cx="480.4" cy="204.9" r="4.65"/>
<circle cx="459.7" cy="208.4" r="4.65"/>
<circle cx="466.6" cy="210.1" r="4.65"/>
<circle cx="432.3" cy="213.6" r="4.65"/>
<circle cx="480.4" cy="210.1" r="4.65"/>
<circle cx="487.3" cy="211.8" r="4.65"/>
<circle cx="446.2" cy="218.7" r="4.65"/>
<circle cx="473.5" cy="216.2" r="4.65"/>
<circle cx="459.7" cy="220.5" r="4.65"/>
<circle cx="439.2" cy="225.7" r="4.65"/>
<circle cx="456.5" cy="224.8" r="4.65"/>
<circle cx="463.5" cy="224.8" r="4.65"/>
<circle cx="480.4" cy="225.7" r="4.65"/>
<circle cx="439.2" cy="226.7" r="4.65"/>
<circle cx="453.1" cy="228.1" r="4.65"/>
<circle cx="459.7" cy="226.4" r="4.65"/>
<circle cx="466.6" cy="227.6" r="4.65"/>
<circle cx="480.4" cy="227.1" r="4.65"/>
<circle cx="432.3" cy="232.8" r="4.65"/>
<circle cx="446.2" cy="234.5" r="4.65"/>
<circle cx="456.2" cy="233.7" r="4.65"/>
<circle cx="466.6" cy="232.8" r="4.65"/>
<circle cx="473.5" cy="234.5" r="4.65"/>
<circle cx="487.3" cy="232.8" r="4.65"/>
<circle cx="439.2" cy="239.7" r="4.65"/>
<circle cx="453.1" cy="238.8" r="4.65"/>
<circle cx="459.7" cy="238.5" r="4.65"/>
<circle cx="466.6" cy="241.4" r="4.65"/>
<circle cx="480.4" cy="240.6" r="4.65"/>
<circle cx="439.2" cy="246.6" r="4.65"/>
<circle cx="452.7" cy="244.9" r="4.65"/>
<circle cx="466.6" cy="247.5" r="4.65"/>
<circle cx="480.4" cy="246.6" r="4.65"/>
<circle cx="439.2" cy="253.6" r="4.65"/>
<circle cx="453.1" cy="249.2" r="4.65"/>
<circle cx="466.6" cy="250.1" r="4.65"/>
<circle cx="480.4" cy="257.0" r="4.65"/>
<circle cx="432.3" cy="264.5" r="4.65"/>
<circle cx="446.2" cy="265.2" r="4.65"/>
<circle cx="453.1" cy="260.5" r="4.65"/>
<circle cx="459.7" cy="265.7" r="4.65"/>
<circle cx="466.6" cy="261.3" r="4.65"/>
<circle cx="473.5" cy="266.2" r="4.65"/>
<circle cx="487.3" cy="265.2" r="4.65"/>
<circle cx="456.2" cy="269.1" r="4.65"/>
<circle cx="463.1" cy="268.3" r="4.65"/>
<circle cx="439.2" cy="272.6" r="4.65"/>
<circle cx="480.4" cy="272.6" r="4.65"/>
<circle cx="432.3" cy="278.3" r="4.65"/>
<circle cx="446.2" cy="280.0" r="4.65"/>
<circle cx="453.1" cy="277.3" r="4.65"/>
<circle cx="459.7" cy="280.4" r="4.65"/>
<circle cx="466.6" cy="276.1" r="4.65"/>
<circle cx="473.5" cy="279.5" r="4.65"/>
<circle cx="487.3" cy="277.8" r="4.65"/>
<circle cx="439.2" cy="290.8" r="4.65"/>
<circle cx="453.1" cy="291.1" r="4.65"/>
<circle cx="466.6" cy="291.1" r="4.65"/>
<circle cx="480.4" cy="289.4" r="4.65"/>
<circle cx="439.2" cy="295.1" r="4.65"/>
<circle cx="480.4" cy="295.1" r="4.65"/>
<circle cx="446.2" cy="297.7" r="4.65"/>
<circle cx="452.7" cy="296.0" r="4.65"/>
<circle cx="459.7" cy="299.1" r="4.65"/>
<circle cx="466.6" cy="297.3" r="4.65"/>
<circle cx="473.5" cy="297.7" r="4.65"/>
<circle cx="428.8" cy="301.2" r="4.65"/>
<circle cx="490.8" cy="301.2" r="4.65"/>
<circle cx="452.7" cy="304.6" r="4.65"/>
<circle cx="459.7" cy="306.3" r="4.65"/>
<circle cx="466.6" cy="304.6" r="4.65"/>
<circle cx="439.2" cy="305.5" r="4.65"/>
<circle cx="480.4" cy="305.5" r="4.65"/>
<circle cx="432.3" cy="312.4" r="4.65"/>
<circle cx="452.7" cy="310.7" r="4.65"/>
<circle cx="466.6" cy="310.7" r="4.65"/>
<circle cx="487.3" cy="312.4" r="4.65"/>
<circle cx="429.5" cy="314.2" r="4.65"/>
<circle cx="429.5" cy="325.8" r="4.65"/>
<circle cx="429.5" cy="331.2" r="4.65"/>
<circle cx="429.5" cy="341.9" r="4.65"/>
<circle cx="429.5" cy="345.8" r="4.65"/>
<circle cx="429.5" cy="355.0" r="4.65"/>
<circle cx="429.5" cy="358.0" r="4.65"/>
<circle cx="429.5" cy="365.8" r="4.65"/>
<circle cx="490.0" cy="313.8" r="4.65"/>
<circle cx="490.0" cy="326.2" r="4.65"/>
<circle cx="490.0" cy="331.9" r="4.65"/>
<circle cx="490.0" cy="343.5" r="4.65"/>
<circle cx="490.0" cy="348.0" r="4.65"/>
<circle cx="490.0" cy="357.3" r="4.65"/>
<circle cx="490.0" cy="366.5" r="4.65"/>
<circle cx="439.2" cy="309.0" r="4.65"/>
<circle cx="453.0" cy="309.0" r="4.65"/>
<circle cx="466.8" cy="309.0" r="4.65"/>
<circle cx="480.6" cy="309.0" r="4.65"/>
<circle cx="446.1" cy="314.9" r="4.65"/>
<circle cx="459.9" cy="314.9" r="4.65"/>
<circle cx="473.7" cy="314.9" r="4.65"/>
<circle cx="439.2" cy="320.8" r="4.65"/>
<circle cx="453.0" cy="320.8" r="4.65"/>
<circle cx="466.8" cy="320.8" r="4.65"/>
<circle cx="480.6" cy="320.8" r="4.65"/>
<circle cx="446.1" cy="326.7" r="4.65"/>
<circle cx="459.9" cy="326.7" r="4.65"/>
<circle cx="473.7" cy="326.7" r="4.65"/>
<circle cx="439.2" cy="332.6" r="4.65"/>
<circle cx="453.0" cy="332.6" r="4.65"/>
<circle cx="466.8" cy="332.6" r="4.65"/>
<circle cx="480.6" cy="332.6" r="4.65"/>
<circle cx="446.1" cy="338.5" r="4.65"/>
<circle cx="459.9" cy="338.5" r="4.65"/>
<circle cx="473.7" cy="338.5" r="4.65"/>
<circle cx="439.2" cy="344.4" r="4.65"/>
<circle cx="453.0" cy="344.4" r="4.65"/>
<circle cx="466.8" cy="344.4" r="4.65"/>
<circle cx="480.6" cy="344.4" r="4.65"/>
<circle cx="446.1" cy="350.3" r="4.65"/>
<circle cx="459.9" cy="350.3" r="4.65"/>
<circle cx="473.7" cy="350.3" r="4.65"/>
<circle cx="439.2" cy="356.2" r="4.65"/>
<circle cx="453.0" cy="356.2" r="4.65"/>
<circle cx="466.8" cy="356.2" r="4.65"/>
<circle cx="480.6" cy="356.2" r="4.65"/>
<circle cx="446.1" cy="362.1" r="4.65"/>
<circle cx="459.9" cy="362.1" r="4.65"/>
<circle cx="473.7" cy="362.1" r="4.65"/>
<circle cx="439.2" cy="368.0" r="4.65"/>
<circle cx="453.0" cy="368.0" r="4.65"/>
<circle cx="466.8" cy="368.0" r="4.65"/>
<circle cx="480.6" cy="368.0" r="4.65"/>
<circle cx="459.9" cy="310.0" r="4.65"/>
<circle cx="459.9" cy="313.0" r="4.65"/>
<circle cx="459.9" cy="316.0" r="4.65"/>
<circle cx="459.9" cy="319.0" r="4.65"/>
<circle cx="459.9" cy="322.0" r="4.65"/>
<circle cx="459.9" cy="325.0" r="4.65"/>
<circle cx="459.9" cy="328.0" r="4.65"/>
<circle cx="459.9" cy="331.0" r="4.65"/>
<circle cx="459.9" cy="334.0" r="4.65"/>
<circle cx="459.9" cy="337.0" r="4.65"/>
<circle cx="459.9" cy="340.0" r="4.65"/>
<circle cx="459.9" cy="343.0" r="4.65"/>
<circle cx="459.9" cy="346.0" r="4.65"/>
<circle cx="459.9" cy="349.0" r="4.65"/>
<circle cx="459.9" cy="352.0" r="4.65"/>
<circle cx="459.9" cy="355.0" r="4.65"/>
<circle cx="459.9" cy="358.0" r="4.65"/>
<circle cx="459.9" cy="361.0" r="4.65"/>
<circle cx="459.9" cy="364.0" r="4.65"/>
<circle cx="459.9" cy="367.0" r="4.65"/>
<circle cx="432.3" cy="364.0" r="4.65"/>
<circle cx="432.3" cy="366.4" r="4.65"/>
<circle cx="432.3" cy="368.8" r="4.65"/>
<circle cx="432.3" cy="371.2" r="4.65"/>
<circle cx="432.3" cy="373.6" r="4.65"/>
<circle cx="432.3" cy="376.0" r="4.65"/>
<circle cx="432.3" cy="378.4" r="4.65"/>
<circle cx="432.3" cy="380.8" r="4.65"/>
<circle cx="432.3" cy="383.2" r="4.65"/>
<circle cx="432.3" cy="385.6" r="4.65"/>
<circle cx="432.3" cy="388.0" r="4.65"/>
<circle cx="432.3" cy="390.4" r="4.65"/>
<circle cx="432.3" cy="392.8" r="4.65"/>
<circle cx="432.3" cy="395.2" r="4.65"/>
<circle cx="432.3" cy="397.6" r="4.65"/>
<circle cx="432.3" cy="400.0" r="4.65"/>
<circle cx="432.3" cy="402.4" r="4.65"/>
<circle cx="432.3" cy="404.8" r="4.65"/>
<circle cx="432.3" cy="407.2" r="4.65"/>
<circle cx="432.3" cy="409.6" r="4.65"/>
<circle cx="432.3" cy="412.0" r="4.65"/>
<circle cx="432.3" cy="414.4" r="4.65"/>
<circle cx="432.3" cy="416.8" r="4.65"/>
<circle cx="432.3" cy="419.2" r="4.65"/>
<circle cx="432.3" cy="421.6" r="4.65"/>
<circle cx="432.3" cy="424.0" r="4.65"/>
<circle cx="432.3" cy="426.4" r="4.65"/>
<circle cx="432.3" cy="428.8" r="4.65"/>
<circle cx="432.3" cy="431.2" r="4.65"/>
<circle cx="446.1" cy="364.0" r="4.65"/>
<circle cx="446.1" cy="366.4" r="4.65"/>
<circle cx="446.1" cy="368.8" r="4.65"/>
<circle cx="446.1" cy="371.2" r="4.65"/>
<circle cx="446.1" cy="373.6" r="4.65"/>
<circle cx="446.1" cy="376.0" r="4.65"/>
<circle cx="446.1" cy="378.4" r="4.65"/>
<circle cx="446.1" cy="380.8" r="4.65"/>
<circle cx="446.1" cy="383.2" r="4.65"/>
<circle cx="446.1" cy="385.6" r="4.65"/>
<circle cx="446.1" cy="388.0" r="4.65"/>
<circle cx="446.1" cy="390.4" r="4.65"/>
<circle cx="446.1" cy="392.8" r="4.65"/>
<circle cx="446.1" cy="395.2" r="4.65"/>
<circle cx="446.1" cy="397.6" r="4.65"/>
<circle cx="446.1" cy="400.0" r="4.65"/>
<circle cx="446.1" cy="402.4" r="4.65"/>
<circle cx="446.1" cy="404.8" r="4.65"/>
<circle cx="446.1" cy="407.2" r="4.65"/>
<circle cx="446.1" cy="409.6" r="4.65"/>
<circle cx="446.1" cy="412.0" r="4.65"/>
<circle cx="446.1" cy="414.4" r="4.65"/>
<circle cx="446.1" cy="416.8" r="4.65"/>
<circle cx="446.1" cy="419.2" r="4.65"/>
<circle cx="446.1" cy="421.6" r="4.65"/>
<circle cx="446.1" cy="424.0" r="4.65"/>
<circle cx="446.1" cy="426.4" r="4.65"/>
<circle cx="446.1" cy="428.8" r="4.65"/>
<circle cx="446.1" cy="431.2" r="4.65"/>
<circle cx="459.9" cy="364.0" r="4.65"/>
<circle cx="459.9" cy="366.4" r="4.65"/>
<circle cx="459.9" cy="368.8" r="4.65"/>
<circle cx="459.9" cy="371.2" r="4.65"/>
<circle cx="459.9" cy="373.6" r="4.65"/>
<circle cx="459.9" cy="376.0" r="4.65"/>
<circle cx="459.9" cy="378.4" r="4.65"/>
<circle cx="459.9" cy="380.8" r="4.65"/>
<circle cx="459.9" cy="383.2" r="4.65"/>
<circle cx="459.9" cy="385.6" r="4.65"/>
<circle cx="459.9" cy="388.0" r="4.65"/>
<circle cx="459.9" cy="390.4" r="4.65"/>
<circle cx="459.9" cy="392.8" r="4.65"/>
<circle cx="459.9" cy="395.2" r="4.65"/>
<circle cx="459.9" cy="397.6" r="4.65"/>
<circle cx="459.9" cy="400.0" r="4.65"/>
<circle cx="459.9" cy="402.4" r="4.65"/>
<circle cx="459.9" cy="404.8" r="4.65"/>
<circle cx="459.9" cy="407.2" r="4.65"/>
<circle cx="459.9" cy="409.6" r="4.65"/>
<circle cx="459.9" cy="412.0" r="4.65"/>
<circle cx="459.9" cy="414.4" r="4.65"/>
<circle cx="459.9" cy="416.8" r="4.65"/>
<circle cx="459.9" cy="419.2" r="4.65"/>
<circle cx="459.9" cy="421.6" r="4.65"/>
<circle cx="459.9" cy="424.0" r="4.65"/>
<circle cx="459.9" cy="426.4" r="4.65"/>
<circle cx="459.9" cy="428.8" r="4.65"/>
<circle cx="459.9" cy="431.2" r="4.65"/>
<circle cx="473.7" cy="364.0" r="4.65"/>
<circle cx="473.7" cy="366.4" r="4.65"/>
<circle cx="473.7" cy="368.8" r="4.65"/>
<circle cx="473.7" cy="371.2" r="4.65"/>
<circle cx="473.7" cy="373.6" r="4.65"/>
<circle cx="473.7" cy="376.0" r="4.65"/>
<circle cx="473.7" cy="378.4" r="4.65"/>
<circle cx="473.7" cy="380.8" r="4.65"/>
<circle cx="473.7" cy="383.2" r="4.65"/>
<circle cx="473.7" cy="385.6" r="4.65"/>
<circle cx="473.7" cy="388.0" r="4.65"/>
<circle cx="473.7" cy="390.4" r="4.65"/>
<circle cx="473.7" cy="392.8" r="4.65"/>
<circle cx="473.7" cy="395.2" r="4.65"/>
<circle cx="473.7" cy="397.6" r="4.65"/>
<circle cx="473.7" cy="400.0" r="4.65"/>
<circle cx="473.7" cy="402.4" r="4.65"/>
<circle cx="473.7" cy="404.8" r="4.65"/>
<circle cx="473.7" cy="407.2" r="4.65"/>
<circle cx="473.7" cy="409.6" r="4.65"/>
<circle cx="473.7" cy="412.0" r="4.65"/>
<circle cx="473.7" cy="414.4" r="4.65"/>
<circle cx="473.7" cy="416.8" r="4.65"/>
<circle cx="473.7" cy="419.2" r="4.65"/>
<circle cx="473.7" cy="421.6" r="4.65"/>
<circle cx="473.7" cy="424.0" r="4.65"/>
<circle cx="473.7" cy="426.4" r="4.65"/>
<circle cx="473.7" cy="428.8" r="4.65"/>
<circle cx="473.7" cy="431.2" r="4.65"/>
<circle cx="487.5" cy="364.0" r="4.65"/>
<circle cx="487.5" cy="366.4" r="4.65"/>
<circle cx="487.5" cy="368.8" r="4.65"/>
<circle cx="487.5" cy="371.2" r="4.65"/>
<circle cx="487.5" cy="373.6" r="4.65"/>
<circle cx="487.5" cy="376.0" r="4.65"/>
<circle cx="487.5" cy="378.4" r="4.65"/>
<circle cx="487.5" cy="380.8" r="4.65"/>
<circle cx="487.5" cy="383.2" r="4.65"/>
<circle cx="487.5" cy="385.6" r="4.65"/>
<circle cx="487.5" cy="388.0" r="4.65"/>
<circle cx="487.5" cy="390.4" r="4.65"/>
<circle cx="487.5" cy="392.8" r="4.65"/>
<circle cx="487.5" cy="395.2" r="4.65"/>
<circle cx="487.5" cy="397.6" r="4.65"/>
<circle cx="487.5" cy="400.0" r="4.65"/>
<circle cx="487.5" cy="402.4" r="4.65"/>
<circle cx="487.5" cy="404.8" r="4.65"/>
<circle cx="487.5" cy="407.2" r="4.65"/>
<circle cx="487.5" cy="409.6" r="4.65"/>
<circle cx="487.5" cy="412.0" r="4.65"/>
<circle cx="487.5" cy="414.4" r="4.65"/>
<circle cx="487.5" cy="416.8" r="4.65"/>
<circle cx="487.5" cy="419.2" r="4.65"/>
<circle cx="487.5" cy="421.6" r="4.65"/>
<circle cx="487.5" cy="424.0" r="4.65"/>
<circle cx="487.5" cy="426.4" r="4.65"/>
<circle cx="487.5" cy="428.8" r="4.65"/>
<circle cx="487.5" cy="431.2" r="4.65"/>
<circle cx="439.2" cy="365.3" r="4.65"/>
<circle cx="439.2" cy="378.3" r="4.65"/>
<circle cx="439.2" cy="380.3" r="4.65"/>
<circle cx="439.2" cy="393.3" r="4.65"/>
<circle cx="439.2" cy="395.0" r="4.65"/>
<circle cx="439.2" cy="408.0" r="4.65"/>
<circle cx="439.2" cy="409.2" r="4.65"/>
<circle cx="439.2" cy="422.2" r="4.65"/>
<circle cx="439.2" cy="423.0" r="4.65"/>
<circle cx="439.2" cy="436.0" r="4.65"/>
<circle cx="439.2" cy="379.3" r="4.65"/>
<circle cx="439.2" cy="394.1" r="4.65"/>
<circle cx="439.2" cy="408.6" r="4.65"/>
<circle cx="439.2" cy="422.6" r="4.65"/>
<circle cx="453.0" cy="365.3" r="4.65"/>
<circle cx="453.0" cy="378.3" r="4.65"/>
<circle cx="453.0" cy="380.3" r="4.65"/>
<circle cx="453.0" cy="393.3" r="4.65"/>
<circle cx="453.0" cy="395.0" r="4.65"/>
<circle cx="453.0" cy="408.0" r="4.65"/>
<circle cx="453.0" cy="409.2" r="4.65"/>
<circle cx="453.0" cy="422.2" r="4.65"/>
<circle cx="453.0" cy="423.0" r="4.65"/>
<circle cx="453.0" cy="436.0" r="4.65"/>
<circle cx="453.0" cy="379.3" r="4.65"/>
<circle cx="453.0" cy="394.1" r="4.65"/>
<circle cx="453.0" cy="408.6" r="4.65"/>
<circle cx="453.0" cy="422.6" r="4.65"/>
<circle cx="466.6" cy="365.3" r="4.65"/>
<circle cx="466.6" cy="378.3" r="4.65"/>
<circle cx="466.6" cy="380.3" r="4.65"/>
<circle cx="466.6" cy="393.3" r="4.65"/>
<circle cx="466.6" cy="395.0" r="4.65"/>
<circle cx="466.6" cy="408.0" r="4.65"/>
<circle cx="466.6" cy="409.2" r="4.65"/>
<circle cx="466.6" cy="422.2" r="4.65"/>
<circle cx="466.6" cy="423.0" r="4.65"/>
<circle cx="466.6" cy="436.0" r="4.65"/>
<circle cx="466.6" cy="379.3" r="4.65"/>
<circle cx="466.6" cy="394.1" r="4.65"/>
<circle cx="466.6" cy="408.6" r="4.65"/>
<circle cx="466.6" cy="422.6" r="4.65"/>
<circle cx="480.4" cy="365.3" r="4.65"/>
<circle cx="480.4" cy="378.3" r="4.65"/>
<circle cx="480.4" cy="380.3" r="4.65"/>
<circle cx="480.4" cy="393.3" r="4.65"/>
<circle cx="480.4" cy="395.0" r="4.65"/>
<circle cx="480.4" cy="408.0" r="4.65"/>
<circle cx="480.4" cy="409.2" r="4.65"/>
<circle cx="480.4" cy="422.2" r="4.65"/>
<circle cx="480.4" cy="423.0" r="4.65"/>
<circle cx="480.4" cy="436.0" r="4.65"/>
<circle cx="480.4" cy="379.3" r="4.65"/>
<circle cx="480.4" cy="394.1" r="4.65"/>
<circle cx="480.4" cy="408.6" r="4.65"/>
<circle cx="480.4" cy="422.6" r="4.65"/>
<circle cx="439.2" cy="434.0" r="4.65"/>
<circle cx="453.0" cy="434.0" r="4.65"/>
<circle cx="466.6" cy="434.0" r="4.65"/>
<circle cx="480.4" cy="434.0" r="4.65"/>
<circle cx="429.0" cy="366.0" r="4.65"/>
<circle cx="429.0" cy="379.3" r="4.65"/>
<circle cx="429.0" cy="394.2" r="4.65"/>
<circle cx="429.0" cy="408.6" r="4.65"/>
<circle cx="429.0" cy="422.8" r="4.65"/>
<circle cx="429.0" cy="434.0" r="4.65"/>
<circle cx="491.0" cy="366.0" r="4.65"/>
<circle cx="491.0" cy="379.3" r="4.65"/>
<circle cx="491.0" cy="394.2" r="4.65"/>
<circle cx="491.0" cy="408.6" r="4.65"/>
<circle cx="491.0" cy="422.8" r="4.65"/>
<circle cx="491.0" cy="434.0" r="4.65"/>
<line x1="76" y1="400.9" x2="154" y2="400.9" stroke="#000" stroke-width="1.6"/>
<line x1="191" y1="411.4" x2="269" y2="411.4" stroke="#000" stroke-width="1.6"/>
<line x1="306" y1="412.8" x2="384" y2="412.8" stroke="#000" stroke-width="1.6"/>
<line x1="421" y1="337.5" x2="498" y2="337.5" stroke="#000" stroke-width="1.6"/>
<text x="1.6" y="484.3" font-size="25" font-weight="bold" font-family="Liberation Sans, sans-serif">B</text>
<line x1="58" y1="491.8" x2="58" y2="871.4" stroke="#000" stroke-width="2.1"/>
<line x1="52.5" y1="870.4" x2="512.8" y2="870.4" stroke="#000" stroke-width="2.1"/>
<line x1="52.5" y1="870.40" x2="58" y2="870.40" stroke="#000" stroke-width="2"/>
<text x="51.6" y="876.30" text-anchor="end" font-size="16.3" font-weight="bold" font-family="Liberation Sans, sans-serif">0.0</text>
<line x1="52.5" y1="823.20" x2="58" y2="823.20" stroke="#000" stroke-width="2"/>
<text x="51.6" y="829.10" text-anchor="end" font-size="16.3" font-weight="bold" font-family="Liberation Sans, sans-serif">0.5</text>
<line x1="52.5" y1="776.00" x2="58" y2="776.00" stroke="#000" stroke-width="2"/>
<text x="51.6" y="781.90" text-anchor="end" font-size="16.3" font-weight="bold" font-family="Liberation Sans, sans-serif">1.0</text>
<line x1="52.5" y1="728.80" x2="58" y2="728.80" stroke="#000" stroke-width="2"/>
<text x="51.6" y="734.70" text-anchor="end" font-size="16.3" font-weight="bold" font-family="Liberation Sans, sans-serif">1.5</text>
<line x1="52.5" y1="681.60" x2="58" y2="681.60" stroke="#000" stroke-width="2"/>
<text x="51.6" y="687.50" text-anchor="end" font-size="16.3" font-weight="bold" font-family="Liberation Sans, sans-serif">2.0</text>
<line x1="52.5" y1="634.40" x2="58" y2="634.40" stroke="#000" stroke-width="2"/>
<text x="51.6" y="640.30" text-anchor="end" font-size="16.3" font-weight="bold" font-family="Liberation Sans, sans-serif">2.5</text>
<line x1="52.5" y1="587.20" x2="58" y2="587.20" stroke="#000" stroke-width="2"/>
<text x="51.6" y="593.10" text-anchor="end" font-size="16.3" font-weight="bold" font-family="Liberation Sans, sans-serif">3.0</text>
<line x1="52.5" y1="540.00" x2="58" y2="540.00" stroke="#000" stroke-width="2"/>
<text x="51.6" y="545.90" text-anchor="end" font-size="16.3" font-weight="bold" font-family="Liberation Sans, sans-serif">3.5</text>
<line x1="52.5" y1="492.80" x2="58" y2="492.80" stroke="#000" stroke-width="2"/>
<text x="51.6" y="498.70" text-anchor="end" font-size="16.3" font-weight="bold" font-family="Liberation Sans, sans-serif">4.0</text>
<line x1="133" y1="870.4" x2="133" y2="875.9" stroke="#000" stroke-width="2"/>
<text x="133" y="890.8" text-anchor="middle" font-size="16.7" font-weight="bold" font-family="Liberation Sans, sans-serif">Day 0</text>
<line x1="285" y1="870.4" x2="285" y2="875.9" stroke="#000" stroke-width="2"/>
<text x="285" y="890.8" text-anchor="middle" font-size="16.7" font-weight="bold" font-family="Liberation Sans, sans-serif">Day 3-7</text>
<line x1="436" y1="870.4" x2="436" y2="875.9" stroke="#000" stroke-width="2"/>
<text x="436" y="890.8" text-anchor="middle" font-size="16.7" font-weight="bold" font-family="Liberation Sans, sans-serif">Day 30</text>
<text transform="translate(19.2,820.5) rotate(-90)" font-size="16.2" font-weight="bold" font-family="Liberation Sans, sans-serif" textLength="200" lengthAdjust="spacingAndGlyphs">anti-protamine/heparin</text>
<text transform="translate(19.2,620.5) rotate(-90)" font-size="16.2" font-weight="bold" font-family="Liberation Sans, sans-serif">&#160;(A<tspan font-size="17.4" dy="3.6">450nm</tspan><tspan dy="-3.6" font-size="21">)</tspan></text>
<path d="M133.0 583.4L285.0 602.3L436.0 558.9M133.0 612.7L285.0 622.1L436.0 676.9M133.0 792.0L285.0 572.1L436.0 556.0M133.0 808.1L285.0 577.8L436.0 560.8M133.0 856.2L285.0 576.8L436.0 553.2M133.0 830.8L285.0 597.6L436.0 566.4M133.0 853.4L285.0 611.7L436.0 570.2M133.0 729.7L285.0 802.4L436.0 629.7M133.0 748.6L285.0 751.5L436.0 648.6M133.0 818.5L285.0 757.1L436.0 662.7M133.0 752.4L285.0 818.5L436.0 596.6M133.0 768.4L285.0 827.9L436.0 691.0M133.0 780.7L285.0 794.9L436.0 615.5M133.0 841.1L285.0 849.6L436.0 576.5M133.0 855.6L285.0 830.7L436.0 616.9M133.0 866.5L285.0 867.6L436.0 554.6M133.0 839.5L285.0 850.3L436.0 696.6M133.0 823.9L285.0 849.2L436.0 619.8M133.0 775.4L285.0 811.3L436.0 689.0M133.0 842.1L285.0 842.5L436.0 580.1M133.0 863.5L285.0 867.6L436.0 512.7M133.0 859.0L285.0 859.2L436.0 497.0M133.0 777.5L285.0 807.6L436.0 670.7M133.0 858.2L285.0 862.3L436.0 499.6M133.0 853.6L285.0 840.0L436.0 666.4M133.0 859.0L285.0 854.6L436.0 599.4M133.0 840.2L285.0 851.5L436.0 551.3M133.0 863.0L285.0 867.6L436.0 559.8M133.0 849.9L285.0 862.4L436.0 666.4M133.0 833.6L285.0 848.1L436.0 730.0M133.0 857.0L285.0 854.6L436.0 630.2M133.0 860.2L285.0 856.6L436.0 572.8M133.0 844.8L285.0 854.8L436.0 558.5M133.0 824.2L285.0 831.9L436.0 630.2M133.0 836.5L285.0 837.7L436.0 733.5M133.0 843.1L285.0 853.3L436.0 710.4M133.0 838.0L285.0 838.2L436.0 710.4M133.0 857.9L285.0 841.6L436.0 572.0M133.0 840.1L285.0 842.3L436.0 728.3M133.0 846.4L285.0 854.4L436.0 744.8M133.0 840.7L285.0 859.7L436.0 740.7M133.0 838.3L285.0 850.3L436.0 693.4M133.0 849.7L285.0 859.6L436.0 697.3M133.0 856.5L285.0 865.0L436.0 597.5M133.0 845.8L285.0 857.6L436.0 665.6M133.0 858.4L285.0 857.5L436.0 657.1M133.0 847.2L285.0 839.6L436.0 657.5M133.0 840.9L285.0 849.1L436.0 737.4M133.0 851.4L285.0 857.0L436.0 601.6M133.0 856.7L285.0 862.7L436.0 727.4M133.0 823.5L285.0 837.9L436.0 648.0M133.0 863.9L285.0 862.6L436.0 659.0M133.0 844.3L285.0 835.4L436.0 754.8M133.0 863.2L285.0 867.6L436.0 633.7M133.0 864.2L285.0 864.3L436.0 504.6M133.0 857.2L285.0 864.2L436.0 697.3M133.0 857.4L285.0 859.8L436.0 579.4M133.0 829.8L285.0 846.6L436.0 726.5M133.0 850.8L285.0 856.1L436.0 725.8M133.0 866.4L285.0 866.8L436.0 548.2M133.0 842.1L285.0 848.5L436.0 608.7M133.0 864.6L285.0 860.5L436.0 630.2M133.0 856.3L285.0 865.8L436.0 659.5M133.0 859.4L285.0 854.8L436.0 710.4M133.0 853.5L285.0 826.5L436.0 698.8M133.0 840.1L285.0 857.3L436.0 575.4M133.0 848.0L285.0 850.4L436.0 563.1M133.0 837.5L285.0 853.3L436.0 573.8M133.0 839.1L285.0 848.5L436.0 710.4M133.0 859.3L285.0 859.4L436.0 657.5M133.0 815.4L285.0 829.3L436.0 574.8M133.0 813.5L285.0 833.0L436.0 727.4M133.0 866.3L285.0 867.6L436.0 730.0M133.0 865.5L285.0 867.4L436.0 658.3M133.0 811.6L285.0 841.0L436.0 652.3M133.0 855.6L285.0 861.7L436.0 562.0M133.0 839.1L285.0 845.0L436.0 601.8M133.0 852.0L285.0 853.6L436.0 737.9M133.0 851.7L285.0 854.0L436.0 706.4M133.0 851.8L285.0 858.9L436.0 593.0M133.0 849.3L285.0 853.0L436.0 636.6M133.0 835.7L285.0 853.7L436.0 735.8M133.0 845.0L285.0 849.3L436.0 735.0M133.0 865.2L285.0 867.6L436.0 580.1M133.0 865.8L285.0 865.3L436.0 673.3M133.0 859.2L285.0 867.6L436.0 698.3M133.0 826.3L285.0 833.4L436.0 498.8M133.0 825.8L285.0 838.3L436.0 692.6M133.0 822.2L285.0 838.4L436.0 682.1M133.0 863.8L285.0 860.1L436.0 733.5M133.0 847.8L285.0 857.9L436.0 737.0M133.0 866.1L285.0 851.7L436.0 710.4M133.0 815.2L285.0 843.1L436.0 701.2M133.0 857.0L285.0 867.6L436.0 656.6M133.0 839.4L285.0 857.0L436.0 619.8M133.0 829.4L285.0 832.2L436.0 593.9M133.0 829.0L285.0 838.7L436.0 571.7M133.0 815.6L285.0 820.9L436.0 638.2M133.0 830.2L285.0 824.2L436.0 738.3M133.0 850.7L285.0 854.0L436.0 631.1M133.0 861.3L285.0 867.6L436.0 602.2M133.0 835.2L285.0 850.6L436.0 726.7M133.0 780.4L285.0 802.5L436.0 649.3M133.0 828.2L285.0 860.0L436.0 643.6M133.0 846.6L285.0 854.8L436.0 588.7M133.0 832.9L285.0 843.1L436.0 710.0M133.0 867.3L285.0 867.6L436.0 619.8M133.0 856.2L285.0 864.9L436.0 664.7M133.0 847.0L285.0 844.1L436.0 598.3M133.0 815.9L285.0 835.0L436.0 641.8M133.0 850.2L285.0 857.5L436.0 664.7M133.0 865.3L285.0 851.8L436.0 569.7M133.0 845.3L285.0 851.0L436.0 650.5M133.0 840.0L285.0 847.7L436.0 605.2M133.0 778.2L285.0 794.9L436.0 743.1M133.0 852.4L285.0 866.0L436.0 658.4M133.0 792.2L285.0 833.5L436.0 614.9M133.0 841.2L285.0 845.9L436.0 725.9M133.0 864.4L285.0 866.9L436.0 723.4M133.0 836.1L285.0 853.6L436.0 590.1M133.0 841.3L285.0 839.5L436.0 640.1M133.0 835.7L285.0 842.5L436.0 595.7M133.0 817.2L285.0 839.0L436.0 619.8M133.0 833.5L285.0 839.3L436.0 588.6M133.0 806.3L285.0 862.4L436.0 691.3M133.0 849.9L285.0 859.1L436.0 723.1M133.0 848.7L285.0 847.4L436.0 645.4M133.0 815.0L285.0 819.4L436.0 738.7M133.0 840.4L285.0 843.1L436.0 708.3M133.0 861.9L285.0 863.4L436.0 751.7M133.0 849.5L285.0 833.9L436.0 636.6M133.0 819.0L285.0 832.7L436.0 562.4M133.0 775.8L285.0 794.9L436.0 754.3M133.0 861.5L285.0 862.8L436.0 720.8M133.0 821.0L285.0 849.7L436.0 704.7M133.0 856.6L285.0 841.1L436.0 519.2M133.0 847.6L285.0 847.4L436.0 562.4M133.0 821.7L285.0 844.1L436.0 603.5M133.0 857.2L285.0 861.2L436.0 619.8M133.0 847.2L285.0 850.1L436.0 567.6M133.0 857.7L285.0 856.4L436.0 672.8M133.0 848.1L285.0 855.5L436.0 700.4M133.0 853.6L285.0 856.4L436.0 737.0M133.0 840.2L285.0 851.8L436.0 586.7M133.0 841.9L285.0 848.0L436.0 638.3M133.0 856.4L285.0 862.7L436.0 670.4M133.0 839.1L285.0 844.8L436.0 731.4M133.0 786.5L285.0 824.5L436.0 732.2M133.0 844.8L285.0 845.2L436.0 554.6M133.0 866.5L285.0 833.4L436.0 646.0M133.0 842.0L285.0 848.4L436.0 601.1M133.0 838.3L285.0 836.6L436.0 721.7M133.0 839.1L285.0 845.1L436.0 707.5M133.0 859.6L285.0 864.8L436.0 636.0M133.0 854.2L285.0 850.7L436.0 636.6M133.0 817.0L285.0 866.7L436.0 521.5M133.0 814.9L285.0 841.3L436.0 619.8M133.0 840.6L285.0 853.1L436.0 744.8M133.0 845.5L285.0 844.7L436.0 747.6M133.0 852.4L285.0 853.8L436.0 552.8M133.0 856.6L285.0 859.3L436.0 597.5M133.0 839.3L285.0 847.4L436.0 729.6M133.0 838.3L285.0 838.2L436.0 748.5M133.0 845.0L285.0 858.4L436.0 593.9M133.0 852.9L285.0 850.5L436.0 566.3M133.0 866.9L285.0 867.6L436.0 601.8M133.0 840.5L285.0 850.9L436.0 660.0M133.0 774.6L285.0 826.1L436.0 664.7M133.0 810.7L285.0 825.4L436.0 664.7M133.0 801.9L285.0 811.4L436.0 707.1M133.0 857.3L285.0 859.1L436.0 732.1M133.0 865.0L285.0 862.3L436.0 656.6M133.0 803.3L285.0 813.4L436.0 728.6M133.0 824.4L285.0 838.0L436.0 593.9M133.0 859.9L285.0 860.7L436.0 678.6M133.0 866.0L285.0 867.6L436.0 746.5M133.0 866.3L285.0 866.5L436.0 630.2M133.0 864.1L285.0 866.5L436.0 671.6M133.0 861.1L285.0 858.7L436.0 618.7M133.0 865.6L285.0 863.8L436.0 571.1M133.0 821.7L285.0 839.0L436.0 709.5M133.0 838.7L285.0 850.9L436.0 542.9M133.0 827.5L285.0 839.7L436.0 658.6M133.0 861.2L285.0 861.4L436.0 681.2M133.0 865.3L285.0 864.4L436.0 740.6M133.0 862.5L285.0 845.8L436.0 574.8M133.0 829.4L285.0 830.8L436.0 697.8M133.0 851.9L285.0 853.6L436.0 641.8M133.0 830.2L285.0 835.8L436.0 743.1M133.0 857.1L285.0 860.0L436.0 676.9M133.0 848.8L285.0 857.9L436.0 737.9M133.0 849.1L285.0 858.4L436.0 672.5M133.0 839.1L285.0 846.4L436.0 723.4M133.0 857.9L285.0 864.7L436.0 640.1M133.0 830.5L285.0 852.9L436.0 579.1M133.0 862.3L285.0 859.0L436.0 612.8M133.0 855.4L285.0 866.1L436.0 710.4M133.0 859.1L285.0 844.9L436.0 602.3M133.0 776.3L285.0 818.7L436.0 710.4M133.0 865.1L285.0 867.6L436.0 551.1M133.0 859.6L285.0 863.2L436.0 710.4M133.0 840.7L285.0 845.7L436.0 499.3M133.0 832.9L285.0 841.7L436.0 727.2M133.0 795.3L285.0 800.6L436.0 685.6M133.0 852.9L285.0 856.0L436.0 679.5M133.0 825.0L285.0 858.6L436.0 704.7M133.0 821.4L285.0 823.3L436.0 730.5M133.0 862.7L285.0 847.8L436.0 501.1M133.0 842.5L285.0 836.6L436.0 697.8M133.0 850.6L285.0 852.0L436.0 678.6M133.0 846.5L285.0 833.7L436.0 588.7" stroke="#000" stroke-width="0.85" fill="none"/>
<path d="M129.0 579.4h8.0v8.0h-8.0zM129.0 608.7h8.0v8.0h-8.0zM129.0 788.0h8.0v8.0h-8.0zM129.0 804.1h8.0v8.0h-8.0zM129.0 852.2h8.0v8.0h-8.0zM129.0 826.8h8.0v8.0h-8.0zM129.0 849.4h8.0v8.0h-8.0zM129.0 725.7h8.0v8.0h-8.0zM129.0 744.6h8.0v8.0h-8.0zM129.0 814.5h8.0v8.0h-8.0zM129.0 748.4h8.0v8.0h-8.0zM129.0 764.4h8.0v8.0h-8.0zM129.0 776.7h8.0v8.0h-8.0zM129.0 837.1h8.0v8.0h-8.0zM129.0 851.6h8.0v8.0h-8.0zM129.0 862.5h8.0v8.0h-8.0zM129.0 835.5h8.0v8.0h-8.0zM129.0 819.9h8.0v8.0h-8.0zM129.0 771.4h8.0v8.0h-8.0zM129.0 838.1h8.0v8.0h-8.0zM129.0 859.5h8.0v8.0h-8.0zM129.0 855.0h8.0v8.0h-8.0zM129.0 773.5h8.0v8.0h-8.0zM129.0 854.2h8.0v8.0h-8.0zM129.0 849.6h8.0v8.0h-8.0zM129.0 855.0h8.0v8.0h-8.0zM129.0 836.2h8.0v8.0h-8.0zM129.0 859.0h8.0v8.0h-8.0zM129.0 845.9h8.0v8.0h-8.0zM129.0 829.6h8.0v8.0h-8.0zM129.0 853.0h8.0v8.0h-8.0zM129.0 856.2h8.0v8.0h-8.0zM129.0 840.8h8.0v8.0h-8.0zM129.0 820.2h8.0v8.0h-8.0zM129.0 832.5h8.0v8.0h-8.0zM129.0 839.1h8.0v8.0h-8.0zM129.0 834.0h8.0v8.0h-8.0zM129.0 853.9h8.0v8.0h-8.0zM129.0 836.1h8.0v8.0h-8.0zM129.0 842.4h8.0v8.0h-8.0zM129.0 836.7h8.0v8.0h-8.0zM129.0 834.3h8.0v8.0h-8.0zM129.0 845.7h8.0v8.0h-8.0zM129.0 852.5h8.0v8.0h-8.0zM129.0 841.8h8.0v8.0h-8.0zM129.0 854.4h8.0v8.0h-8.0zM129.0 843.2h8.0v8.0h-8.0zM129.0 836.9h8.0v8.0h-8.0zM129.0 847.4h8.0v8.0h-8.0zM129.0 852.7h8.0v8.0h-8.0zM129.0 819.5h8.0v8.0h-8.0zM129.0 859.9h8.0v8.0h-8.0zM129.0 840.3h8.0v8.0h-8.0zM129.0 859.2h8.0v8.0h-8.0zM129.0 860.2h8.0v8.0h-8.0zM129.0 853.2h8.0v8.0h-8.0zM129.0 853.4h8.0v8.0h-8.0zM129.0 825.8h8.0v8.0h-8.0zM129.0 846.8h8.0v8.0h-8.0zM129.0 862.4h8.0v8.0h-8.0zM129.0 838.1h8.0v8.0h-8.0zM129.0 860.6h8.0v8.0h-8.0zM129.0 852.3h8.0v8.0h-8.0zM129.0 855.4h8.0v8.0h-8.0zM129.0 849.5h8.0v8.0h-8.0zM129.0 836.1h8.0v8.0h-8.0zM129.0 844.0h8.0v8.0h-8.0zM129.0 833.5h8.0v8.0h-8.0zM129.0 835.1h8.0v8.0h-8.0zM129.0 855.3h8.0v8.0h-8.0zM129.0 811.4h8.0v8.0h-8.0zM129.0 809.5h8.0v8.0h-8.0zM129.0 862.3h8.0v8.0h-8.0zM129.0 861.5h8.0v8.0h-8.0zM129.0 807.6h8.0v8.0h-8.0zM129.0 851.6h8.0v8.0h-8.0zM129.0 835.1h8.0v8.0h-8.0zM129.0 848.0h8.0v8.0h-8.0zM129.0 847.7h8.0v8.0h-8.0zM129.0 847.8h8.0v8.0h-8.0zM129.0 845.3h8.0v8.0h-8.0zM129.0 831.7h8.0v8.0h-8.0zM129.0 841.0h8.0v8.0h-8.0zM129.0 861.2h8.0v8.0h-8.0zM129.0 861.8h8.0v8.0h-8.0zM129.0 855.2h8.0v8.0h-8.0zM129.0 822.3h8.0v8.0h-8.0zM129.0 821.8h8.0v8.0h-8.0zM129.0 818.2h8.0v8.0h-8.0zM129.0 859.8h8.0v8.0h-8.0zM129.0 843.8h8.0v8.0h-8.0zM129.0 862.1h8.0v8.0h-8.0zM129.0 811.2h8.0v8.0h-8.0zM129.0 853.0h8.0v8.0h-8.0zM129.0 835.4h8.0v8.0h-8.0zM129.0 825.4h8.0v8.0h-8.0zM129.0 825.0h8.0v8.0h-8.0zM129.0 811.6h8.0v8.0h-8.0zM129.0 826.2h8.0v8.0h-8.0zM129.0 846.7h8.0v8.0h-8.0zM129.0 857.3h8.0v8.0h-8.0zM129.0 831.2h8.0v8.0h-8.0zM129.0 776.4h8.0v8.0h-8.0zM129.0 824.2h8.0v8.0h-8.0zM129.0 842.6h8.0v8.0h-8.0zM129.0 828.9h8.0v8.0h-8.0zM129.0 863.3h8.0v8.0h-8.0zM129.0 852.2h8.0v8.0h-8.0zM129.0 843.0h8.0v8.0h-8.0zM129.0 811.9h8.0v8.0h-8.0zM129.0 846.2h8.0v8.0h-8.0zM129.0 861.3h8.0v8.0h-8.0zM129.0 841.3h8.0v8.0h-8.0zM129.0 836.0h8.0v8.0h-8.0zM129.0 774.2h8.0v8.0h-8.0zM129.0 848.4h8.0v8.0h-8.0zM129.0 788.2h8.0v8.0h-8.0zM129.0 837.2h8.0v8.0h-8.0zM129.0 860.4h8.0v8.0h-8.0zM129.0 832.1h8.0v8.0h-8.0zM129.0 837.3h8.0v8.0h-8.0zM129.0 831.7h8.0v8.0h-8.0zM129.0 813.2h8.0v8.0h-8.0zM129.0 829.5h8.0v8.0h-8.0zM129.0 802.3h8.0v8.0h-8.0zM129.0 845.9h8.0v8.0h-8.0zM129.0 844.7h8.0v8.0h-8.0zM129.0 811.0h8.0v8.0h-8.0zM129.0 836.4h8.0v8.0h-8.0zM129.0 857.9h8.0v8.0h-8.0zM129.0 845.5h8.0v8.0h-8.0zM129.0 815.0h8.0v8.0h-8.0zM129.0 771.8h8.0v8.0h-8.0zM129.0 857.5h8.0v8.0h-8.0zM129.0 817.0h8.0v8.0h-8.0zM129.0 852.6h8.0v8.0h-8.0zM129.0 843.6h8.0v8.0h-8.0zM129.0 817.7h8.0v8.0h-8.0zM129.0 853.2h8.0v8.0h-8.0zM129.0 843.2h8.0v8.0h-8.0zM129.0 853.7h8.0v8.0h-8.0zM129.0 844.1h8.0v8.0h-8.0zM129.0 849.6h8.0v8.0h-8.0zM129.0 836.2h8.0v8.0h-8.0zM129.0 837.9h8.0v8.0h-8.0zM129.0 852.4h8.0v8.0h-8.0zM129.0 835.1h8.0v8.0h-8.0zM129.0 782.5h8.0v8.0h-8.0zM129.0 840.8h8.0v8.0h-8.0zM129.0 862.5h8.0v8.0h-8.0zM129.0 838.0h8.0v8.0h-8.0zM129.0 834.3h8.0v8.0h-8.0zM129.0 835.1h8.0v8.0h-8.0zM129.0 855.6h8.0v8.0h-8.0zM129.0 850.2h8.0v8.0h-8.0zM129.0 813.0h8.0v8.0h-8.0zM129.0 810.9h8.0v8.0h-8.0zM129.0 836.6h8.0v8.0h-8.0zM129.0 841.5h8.0v8.0h-8.0zM129.0 848.4h8.0v8.0h-8.0zM129.0 852.6h8.0v8.0h-8.0zM129.0 835.3h8.0v8.0h-8.0zM129.0 834.3h8.0v8.0h-8.0zM129.0 841.0h8.0v8.0h-8.0zM129.0 848.9h8.0v8.0h-8.0zM129.0 862.9h8.0v8.0h-8.0zM129.0 836.5h8.0v8.0h-8.0zM129.0 770.6h8.0v8.0h-8.0zM129.0 806.7h8.0v8.0h-8.0zM129.0 797.9h8.0v8.0h-8.0zM129.0 853.3h8.0v8.0h-8.0zM129.0 861.0h8.0v8.0h-8.0zM129.0 799.3h8.0v8.0h-8.0zM129.0 820.4h8.0v8.0h-8.0zM129.0 855.9h8.0v8.0h-8.0zM129.0 862.0h8.0v8.0h-8.0zM129.0 862.3h8.0v8.0h-8.0zM129.0 860.1h8.0v8.0h-8.0zM129.0 857.1h8.0v8.0h-8.0zM129.0 861.6h8.0v8.0h-8.0zM129.0 817.7h8.0v8.0h-8.0zM129.0 834.7h8.0v8.0h-8.0zM129.0 823.5h8.0v8.0h-8.0zM129.0 857.2h8.0v8.0h-8.0zM129.0 861.3h8.0v8.0h-8.0zM129.0 858.5h8.0v8.0h-8.0zM129.0 825.4h8.0v8.0h-8.0zM129.0 847.9h8.0v8.0h-8.0zM129.0 826.2h8.0v8.0h-8.0zM129.0 853.1h8.0v8.0h-8.0zM129.0 844.8h8.0v8.0h-8.0zM129.0 845.1h8.0v8.0h-8.0zM129.0 835.1h8.0v8.0h-8.0zM129.0 853.9h8.0v8.0h-8.0zM129.0 826.5h8.0v8.0h-8.0zM129.0 858.3h8.0v8.0h-8.0zM129.0 851.4h8.0v8.0h-8.0zM129.0 855.1h8.0v8.0h-8.0zM129.0 772.3h8.0v8.0h-8.0zM129.0 861.1h8.0v8.0h-8.0zM129.0 855.6h8.0v8.0h-8.0zM129.0 836.7h8.0v8.0h-8.0zM129.0 828.9h8.0v8.0h-8.0zM129.0 791.3h8.0v8.0h-8.0zM129.0 848.9h8.0v8.0h-8.0zM129.0 821.0h8.0v8.0h-8.0zM129.0 817.4h8.0v8.0h-8.0zM129.0 858.7h8.0v8.0h-8.0zM129.0 838.5h8.0v8.0h-8.0zM129.0 846.6h8.0v8.0h-8.0zM129.0 842.5h8.0v8.0h-8.0z" stroke="#000" stroke-width="1.5" fill="none"/>
<path d="M285.0 596.4L290.6 607.5H279.4zM285.0 616.2L290.6 627.3H279.4zM285.0 566.2L290.6 577.3H279.4zM285.0 571.9L290.6 583.0H279.4zM285.0 570.9L290.6 582.0H279.4zM285.0 591.7L290.6 602.8H279.4zM285.0 605.8L290.6 616.9H279.4zM285.0 796.5L290.6 807.6H279.4zM285.0 745.6L290.6 756.7H279.4zM285.0 751.2L290.6 762.3H279.4zM285.0 812.6L290.6 823.7H279.4zM285.0 822.0L290.6 833.1H279.4zM285.0 789.0L290.6 800.1H279.4zM285.0 843.7L290.6 854.8H279.4zM285.0 824.8L290.6 835.9H279.4zM285.0 861.7L290.6 872.8H279.4zM285.0 844.4L290.6 855.5H279.4zM285.0 843.3L290.6 854.4H279.4zM285.0 805.4L290.6 816.5H279.4zM285.0 836.6L290.6 847.7H279.4zM285.0 861.7L290.6 872.8H279.4zM285.0 853.3L290.6 864.4H279.4zM285.0 801.7L290.6 812.8H279.4zM285.0 856.4L290.6 867.5H279.4zM285.0 834.1L290.6 845.2H279.4zM285.0 848.7L290.6 859.8H279.4zM285.0 845.6L290.6 856.7H279.4zM285.0 861.7L290.6 872.8H279.4zM285.0 856.5L290.6 867.6H279.4zM285.0 842.2L290.6 853.3H279.4zM285.0 848.7L290.6 859.8H279.4zM285.0 850.7L290.6 861.8H279.4zM285.0 848.9L290.6 860.0H279.4zM285.0 826.0L290.6 837.1H279.4zM285.0 831.8L290.6 842.9H279.4zM285.0 847.4L290.6 858.5H279.4zM285.0 832.3L290.6 843.4H279.4zM285.0 835.7L290.6 846.8H279.4zM285.0 836.4L290.6 847.5H279.4zM285.0 848.5L290.6 859.6H279.4zM285.0 853.8L290.6 864.9H279.4zM285.0 844.4L290.6 855.5H279.4zM285.0 853.7L290.6 864.8H279.4zM285.0 859.1L290.6 870.2H279.4zM285.0 851.7L290.6 862.8H279.4zM285.0 851.6L290.6 862.7H279.4zM285.0 833.7L290.6 844.8H279.4zM285.0 843.2L290.6 854.3H279.4zM285.0 851.1L290.6 862.2H279.4zM285.0 856.8L290.6 867.9H279.4zM285.0 832.0L290.6 843.1H279.4zM285.0 856.7L290.6 867.8H279.4zM285.0 829.5L290.6 840.6H279.4zM285.0 861.7L290.6 872.8H279.4zM285.0 858.4L290.6 869.5H279.4zM285.0 858.3L290.6 869.4H279.4zM285.0 853.9L290.6 865.0H279.4zM285.0 840.7L290.6 851.8H279.4zM285.0 850.2L290.6 861.3H279.4zM285.0 860.9L290.6 872.0H279.4zM285.0 842.6L290.6 853.7H279.4zM285.0 854.6L290.6 865.7H279.4zM285.0 859.9L290.6 871.0H279.4zM285.0 848.9L290.6 860.0H279.4zM285.0 820.6L290.6 831.7H279.4zM285.0 851.4L290.6 862.5H279.4zM285.0 844.5L290.6 855.6H279.4zM285.0 847.4L290.6 858.5H279.4zM285.0 842.6L290.6 853.7H279.4zM285.0 853.5L290.6 864.6H279.4zM285.0 823.4L290.6 834.5H279.4zM285.0 827.1L290.6 838.2H279.4zM285.0 861.7L290.6 872.8H279.4zM285.0 861.5L290.6 872.6H279.4zM285.0 835.1L290.6 846.2H279.4zM285.0 855.8L290.6 866.9H279.4zM285.0 839.1L290.6 850.2H279.4zM285.0 847.7L290.6 858.8H279.4zM285.0 848.1L290.6 859.2H279.4zM285.0 853.0L290.6 864.1H279.4zM285.0 847.1L290.6 858.2H279.4zM285.0 847.8L290.6 858.9H279.4zM285.0 843.4L290.6 854.5H279.4zM285.0 861.7L290.6 872.8H279.4zM285.0 859.4L290.6 870.5H279.4zM285.0 861.7L290.6 872.8H279.4zM285.0 827.5L290.6 838.6H279.4zM285.0 832.4L290.6 843.5H279.4zM285.0 832.5L290.6 843.6H279.4zM285.0 854.2L290.6 865.3H279.4zM285.0 852.0L290.6 863.1H279.4zM285.0 845.8L290.6 856.9H279.4zM285.0 837.2L290.6 848.3H279.4zM285.0 861.7L290.6 872.8H279.4zM285.0 851.1L290.6 862.2H279.4zM285.0 826.3L290.6 837.4H279.4zM285.0 832.8L290.6 843.9H279.4zM285.0 815.0L290.6 826.1H279.4zM285.0 818.3L290.6 829.4H279.4zM285.0 848.1L290.6 859.2H279.4zM285.0 861.7L290.6 872.8H279.4zM285.0 844.7L290.6 855.8H279.4zM285.0 796.6L290.6 807.7H279.4zM285.0 854.1L290.6 865.2H279.4zM285.0 848.9L290.6 860.0H279.4zM285.0 837.2L290.6 848.3H279.4zM285.0 861.7L290.6 872.8H279.4zM285.0 859.0L290.6 870.1H279.4zM285.0 838.2L290.6 849.3H279.4zM285.0 829.1L290.6 840.2H279.4zM285.0 851.6L290.6 862.7H279.4zM285.0 845.9L290.6 857.0H279.4zM285.0 845.1L290.6 856.2H279.4zM285.0 841.8L290.6 852.9H279.4zM285.0 789.0L290.6 800.1H279.4zM285.0 860.1L290.6 871.2H279.4zM285.0 827.6L290.6 838.7H279.4zM285.0 840.0L290.6 851.1H279.4zM285.0 861.0L290.6 872.1H279.4zM285.0 847.7L290.6 858.8H279.4zM285.0 833.6L290.6 844.7H279.4zM285.0 836.6L290.6 847.7H279.4zM285.0 833.1L290.6 844.2H279.4zM285.0 833.4L290.6 844.5H279.4zM285.0 856.5L290.6 867.6H279.4zM285.0 853.2L290.6 864.3H279.4zM285.0 841.5L290.6 852.6H279.4zM285.0 813.5L290.6 824.6H279.4zM285.0 837.2L290.6 848.3H279.4zM285.0 857.5L290.6 868.6H279.4zM285.0 828.0L290.6 839.1H279.4zM285.0 826.8L290.6 837.9H279.4zM285.0 789.0L290.6 800.1H279.4zM285.0 856.9L290.6 868.0H279.4zM285.0 843.8L290.6 854.9H279.4zM285.0 835.2L290.6 846.3H279.4zM285.0 841.5L290.6 852.6H279.4zM285.0 838.2L290.6 849.3H279.4zM285.0 855.3L290.6 866.4H279.4zM285.0 844.2L290.6 855.3H279.4zM285.0 850.5L290.6 861.6H279.4zM285.0 849.6L290.6 860.7H279.4zM285.0 850.5L290.6 861.6H279.4zM285.0 845.9L290.6 857.0H279.4zM285.0 842.1L290.6 853.2H279.4zM285.0 856.8L290.6 867.9H279.4zM285.0 838.9L290.6 850.0H279.4zM285.0 818.6L290.6 829.7H279.4zM285.0 839.3L290.6 850.4H279.4zM285.0 827.5L290.6 838.6H279.4zM285.0 842.5L290.6 853.6H279.4zM285.0 830.7L290.6 841.8H279.4zM285.0 839.2L290.6 850.3H279.4zM285.0 858.9L290.6 870.0H279.4zM285.0 844.8L290.6 855.9H279.4zM285.0 860.8L290.6 871.9H279.4zM285.0 835.4L290.6 846.5H279.4zM285.0 847.2L290.6 858.3H279.4zM285.0 838.8L290.6 849.9H279.4zM285.0 847.9L290.6 859.0H279.4zM285.0 853.4L290.6 864.5H279.4zM285.0 841.5L290.6 852.6H279.4zM285.0 832.3L290.6 843.4H279.4zM285.0 852.5L290.6 863.6H279.4zM285.0 844.6L290.6 855.7H279.4zM285.0 861.7L290.6 872.8H279.4zM285.0 845.0L290.6 856.1H279.4zM285.0 820.2L290.6 831.3H279.4zM285.0 819.5L290.6 830.6H279.4zM285.0 805.5L290.6 816.6H279.4zM285.0 853.2L290.6 864.3H279.4zM285.0 856.4L290.6 867.5H279.4zM285.0 807.5L290.6 818.6H279.4zM285.0 832.1L290.6 843.2H279.4zM285.0 854.8L290.6 865.9H279.4zM285.0 861.7L290.6 872.8H279.4zM285.0 860.6L290.6 871.7H279.4zM285.0 860.6L290.6 871.7H279.4zM285.0 852.8L290.6 863.9H279.4zM285.0 857.9L290.6 869.0H279.4zM285.0 833.1L290.6 844.2H279.4zM285.0 845.0L290.6 856.1H279.4zM285.0 833.8L290.6 844.9H279.4zM285.0 855.5L290.6 866.6H279.4zM285.0 858.5L290.6 869.6H279.4zM285.0 839.9L290.6 851.0H279.4zM285.0 824.9L290.6 836.0H279.4zM285.0 847.7L290.6 858.8H279.4zM285.0 829.9L290.6 841.0H279.4zM285.0 854.1L290.6 865.2H279.4zM285.0 852.0L290.6 863.1H279.4zM285.0 852.5L290.6 863.6H279.4zM285.0 840.5L290.6 851.6H279.4zM285.0 858.8L290.6 869.9H279.4zM285.0 847.0L290.6 858.1H279.4zM285.0 853.1L290.6 864.2H279.4zM285.0 860.2L290.6 871.3H279.4zM285.0 839.0L290.6 850.1H279.4zM285.0 812.8L290.6 823.9H279.4zM285.0 861.7L290.6 872.8H279.4zM285.0 857.3L290.6 868.4H279.4zM285.0 839.8L290.6 850.9H279.4zM285.0 835.8L290.6 846.9H279.4zM285.0 794.7L290.6 805.8H279.4zM285.0 850.1L290.6 861.2H279.4zM285.0 852.7L290.6 863.8H279.4zM285.0 817.4L290.6 828.5H279.4zM285.0 841.9L290.6 853.0H279.4zM285.0 830.7L290.6 841.8H279.4zM285.0 846.1L290.6 857.2H279.4zM285.0 827.8L290.6 838.9H279.4z" stroke="#000" stroke-width="1.5" fill="none" stroke-linejoin="miter"/>
<path d="M430.4 554.1H441.6L436.0 564.7zM430.4 672.1H441.6L436.0 682.7zM430.4 551.2H441.6L436.0 561.8zM430.4 556.0H441.6L436.0 566.6zM430.4 548.4H441.6L436.0 559.0zM430.4 561.6H441.6L436.0 572.2zM430.4 565.4H441.6L436.0 576.0zM430.4 624.9H441.6L436.0 635.5zM430.4 643.8H441.6L436.0 654.4zM430.4 657.9H441.6L436.0 668.5zM430.4 591.8H441.6L436.0 602.4zM430.4 686.2H441.6L436.0 696.8zM430.4 610.7H441.6L436.0 621.3zM430.4 571.7H441.6L436.0 582.3zM430.4 612.1H441.6L436.0 622.7zM430.4 549.8H441.6L436.0 560.4zM430.4 691.8H441.6L436.0 702.4zM430.4 615.0H441.6L436.0 625.6zM430.4 684.2H441.6L436.0 694.8zM430.4 575.3H441.6L436.0 585.9zM430.4 507.9H441.6L436.0 518.5zM430.4 492.2H441.6L436.0 502.8zM430.4 665.9H441.6L436.0 676.5zM430.4 494.8H441.6L436.0 505.4zM430.4 661.6H441.6L436.0 672.2zM430.4 594.6H441.6L436.0 605.2zM430.4 546.5H441.6L436.0 557.1zM430.4 555.0H441.6L436.0 565.6zM430.4 661.6H441.6L436.0 672.2zM430.4 725.2H441.6L436.0 735.8zM430.4 625.4H441.6L436.0 636.0zM430.4 568.0H441.6L436.0 578.6zM430.4 553.7H441.6L436.0 564.3zM430.4 625.4H441.6L436.0 636.0zM430.4 728.7H441.6L436.0 739.3zM430.4 705.6H441.6L436.0 716.2zM430.4 705.6H441.6L436.0 716.2zM430.4 567.2H441.6L436.0 577.8zM430.4 723.5H441.6L436.0 734.1zM430.4 740.0H441.6L436.0 750.6zM430.4 735.9H441.6L436.0 746.5zM430.4 688.6H441.6L436.0 699.2zM430.4 692.5H441.6L436.0 703.1zM430.4 592.7H441.6L436.0 603.3zM430.4 660.8H441.6L436.0 671.4zM430.4 652.3H441.6L436.0 662.9zM430.4 652.7H441.6L436.0 663.3zM430.4 732.6H441.6L436.0 743.2zM430.4 596.8H441.6L436.0 607.4zM430.4 722.6H441.6L436.0 733.2zM430.4 643.2H441.6L436.0 653.8zM430.4 654.2H441.6L436.0 664.8zM430.4 750.0H441.6L436.0 760.6zM430.4 628.9H441.6L436.0 639.5zM430.4 499.8H441.6L436.0 510.4zM430.4 692.5H441.6L436.0 703.1zM430.4 574.6H441.6L436.0 585.2zM430.4 721.7H441.6L436.0 732.3zM430.4 721.0H441.6L436.0 731.6zM430.4 543.4H441.6L436.0 554.0zM430.4 603.9H441.6L436.0 614.5zM430.4 625.4H441.6L436.0 636.0zM430.4 654.7H441.6L436.0 665.3zM430.4 705.6H441.6L436.0 716.2zM430.4 694.0H441.6L436.0 704.6zM430.4 570.6H441.6L436.0 581.2zM430.4 558.3H441.6L436.0 568.9zM430.4 569.0H441.6L436.0 579.6zM430.4 705.6H441.6L436.0 716.2zM430.4 652.7H441.6L436.0 663.3zM430.4 570.0H441.6L436.0 580.6zM430.4 722.6H441.6L436.0 733.2zM430.4 725.2H441.6L436.0 735.8zM430.4 653.5H441.6L436.0 664.1zM430.4 647.5H441.6L436.0 658.1zM430.4 557.2H441.6L436.0 567.8zM430.4 597.0H441.6L436.0 607.6zM430.4 733.1H441.6L436.0 743.7zM430.4 701.6H441.6L436.0 712.2zM430.4 588.2H441.6L436.0 598.8zM430.4 631.8H441.6L436.0 642.4zM430.4 731.0H441.6L436.0 741.6zM430.4 730.2H441.6L436.0 740.8zM430.4 575.3H441.6L436.0 585.9zM430.4 668.5H441.6L436.0 679.1zM430.4 693.5H441.6L436.0 704.1zM430.4 494.0H441.6L436.0 504.6zM430.4 687.8H441.6L436.0 698.4zM430.4 677.3H441.6L436.0 687.9zM430.4 728.7H441.6L436.0 739.3zM430.4 732.2H441.6L436.0 742.8zM430.4 705.6H441.6L436.0 716.2zM430.4 696.4H441.6L436.0 707.0zM430.4 651.8H441.6L436.0 662.4zM430.4 615.0H441.6L436.0 625.6zM430.4 589.1H441.6L436.0 599.7zM430.4 566.9H441.6L436.0 577.5zM430.4 633.4H441.6L436.0 644.0zM430.4 733.5H441.6L436.0 744.1zM430.4 626.3H441.6L436.0 636.9zM430.4 597.4H441.6L436.0 608.0zM430.4 721.9H441.6L436.0 732.5zM430.4 644.5H441.6L436.0 655.1zM430.4 638.8H441.6L436.0 649.4zM430.4 583.9H441.6L436.0 594.5zM430.4 705.2H441.6L436.0 715.8zM430.4 615.0H441.6L436.0 625.6zM430.4 659.9H441.6L436.0 670.5zM430.4 593.5H441.6L436.0 604.1zM430.4 637.0H441.6L436.0 647.6zM430.4 659.9H441.6L436.0 670.5zM430.4 564.9H441.6L436.0 575.5zM430.4 645.7H441.6L436.0 656.3zM430.4 600.4H441.6L436.0 611.0zM430.4 738.3H441.6L436.0 748.9zM430.4 653.6H441.6L436.0 664.2zM430.4 610.1H441.6L436.0 620.7zM430.4 721.1H441.6L436.0 731.7zM430.4 718.6H441.6L436.0 729.2zM430.4 585.3H441.6L436.0 595.9zM430.4 635.3H441.6L436.0 645.9zM430.4 590.9H441.6L436.0 601.5zM430.4 615.0H441.6L436.0 625.6zM430.4 583.8H441.6L436.0 594.4zM430.4 686.5H441.6L436.0 697.1zM430.4 718.3H441.6L436.0 728.9zM430.4 640.6H441.6L436.0 651.2zM430.4 733.9H441.6L436.0 744.5zM430.4 703.5H441.6L436.0 714.1zM430.4 746.9H441.6L436.0 757.5zM430.4 631.8H441.6L436.0 642.4zM430.4 557.6H441.6L436.0 568.2zM430.4 749.5H441.6L436.0 760.1zM430.4 716.0H441.6L436.0 726.6zM430.4 699.9H441.6L436.0 710.5zM430.4 514.4H441.6L436.0 525.0zM430.4 557.6H441.6L436.0 568.2zM430.4 598.7H441.6L436.0 609.3zM430.4 615.0H441.6L436.0 625.6zM430.4 562.8H441.6L436.0 573.4zM430.4 668.0H441.6L436.0 678.6zM430.4 695.6H441.6L436.0 706.2zM430.4 732.2H441.6L436.0 742.8zM430.4 581.9H441.6L436.0 592.5zM430.4 633.5H441.6L436.0 644.1zM430.4 665.6H441.6L436.0 676.2zM430.4 726.6H441.6L436.0 737.2zM430.4 727.4H441.6L436.0 738.0zM430.4 549.8H441.6L436.0 560.4zM430.4 641.2H441.6L436.0 651.8zM430.4 596.3H441.6L436.0 606.9zM430.4 716.9H441.6L436.0 727.5zM430.4 702.7H441.6L436.0 713.3zM430.4 631.2H441.6L436.0 641.8zM430.4 631.8H441.6L436.0 642.4zM430.4 516.7H441.6L436.0 527.3zM430.4 615.0H441.6L436.0 625.6zM430.4 740.0H441.6L436.0 750.6zM430.4 742.8H441.6L436.0 753.4zM430.4 548.0H441.6L436.0 558.6zM430.4 592.7H441.6L436.0 603.3zM430.4 724.8H441.6L436.0 735.4zM430.4 743.7H441.6L436.0 754.3zM430.4 589.1H441.6L436.0 599.7zM430.4 561.5H441.6L436.0 572.1zM430.4 597.0H441.6L436.0 607.6zM430.4 655.2H441.6L436.0 665.8zM430.4 659.9H441.6L436.0 670.5zM430.4 659.9H441.6L436.0 670.5zM430.4 702.3H441.6L436.0 712.9zM430.4 727.3H441.6L436.0 737.9zM430.4 651.8H441.6L436.0 662.4zM430.4 723.8H441.6L436.0 734.4zM430.4 589.1H441.6L436.0 599.7zM430.4 673.8H441.6L436.0 684.4zM430.4 741.7H441.6L436.0 752.3zM430.4 625.4H441.6L436.0 636.0zM430.4 666.8H441.6L436.0 677.4zM430.4 613.9H441.6L436.0 624.5zM430.4 566.3H441.6L436.0 576.9zM430.4 704.7H441.6L436.0 715.3zM430.4 538.1H441.6L436.0 548.7zM430.4 653.8H441.6L436.0 664.4zM430.4 676.4H441.6L436.0 687.0zM430.4 735.8H441.6L436.0 746.4zM430.4 570.0H441.6L436.0 580.6zM430.4 693.0H441.6L436.0 703.6zM430.4 637.0H441.6L436.0 647.6zM430.4 738.3H441.6L436.0 748.9zM430.4 672.1H441.6L436.0 682.7zM430.4 733.1H441.6L436.0 743.7zM430.4 667.7H441.6L436.0 678.3zM430.4 718.6H441.6L436.0 729.2zM430.4 635.3H441.6L436.0 645.9zM430.4 574.3H441.6L436.0 584.9zM430.4 608.0H441.6L436.0 618.6zM430.4 705.6H441.6L436.0 716.2zM430.4 597.5H441.6L436.0 608.1zM430.4 705.6H441.6L436.0 716.2zM430.4 546.3H441.6L436.0 556.9zM430.4 705.6H441.6L436.0 716.2zM430.4 494.5H441.6L436.0 505.1zM430.4 722.4H441.6L436.0 733.0zM430.4 680.8H441.6L436.0 691.4zM430.4 674.7H441.6L436.0 685.3zM430.4 699.9H441.6L436.0 710.5zM430.4 725.7H441.6L436.0 736.3zM430.4 496.3H441.6L436.0 506.9zM430.4 693.0H441.6L436.0 703.6zM430.4 673.8H441.6L436.0 684.4zM430.4 583.9H441.6L436.0 594.5z" stroke="#000" stroke-width="1.5" fill="none" stroke-linejoin="miter"/>
</svg>
</body></html>
